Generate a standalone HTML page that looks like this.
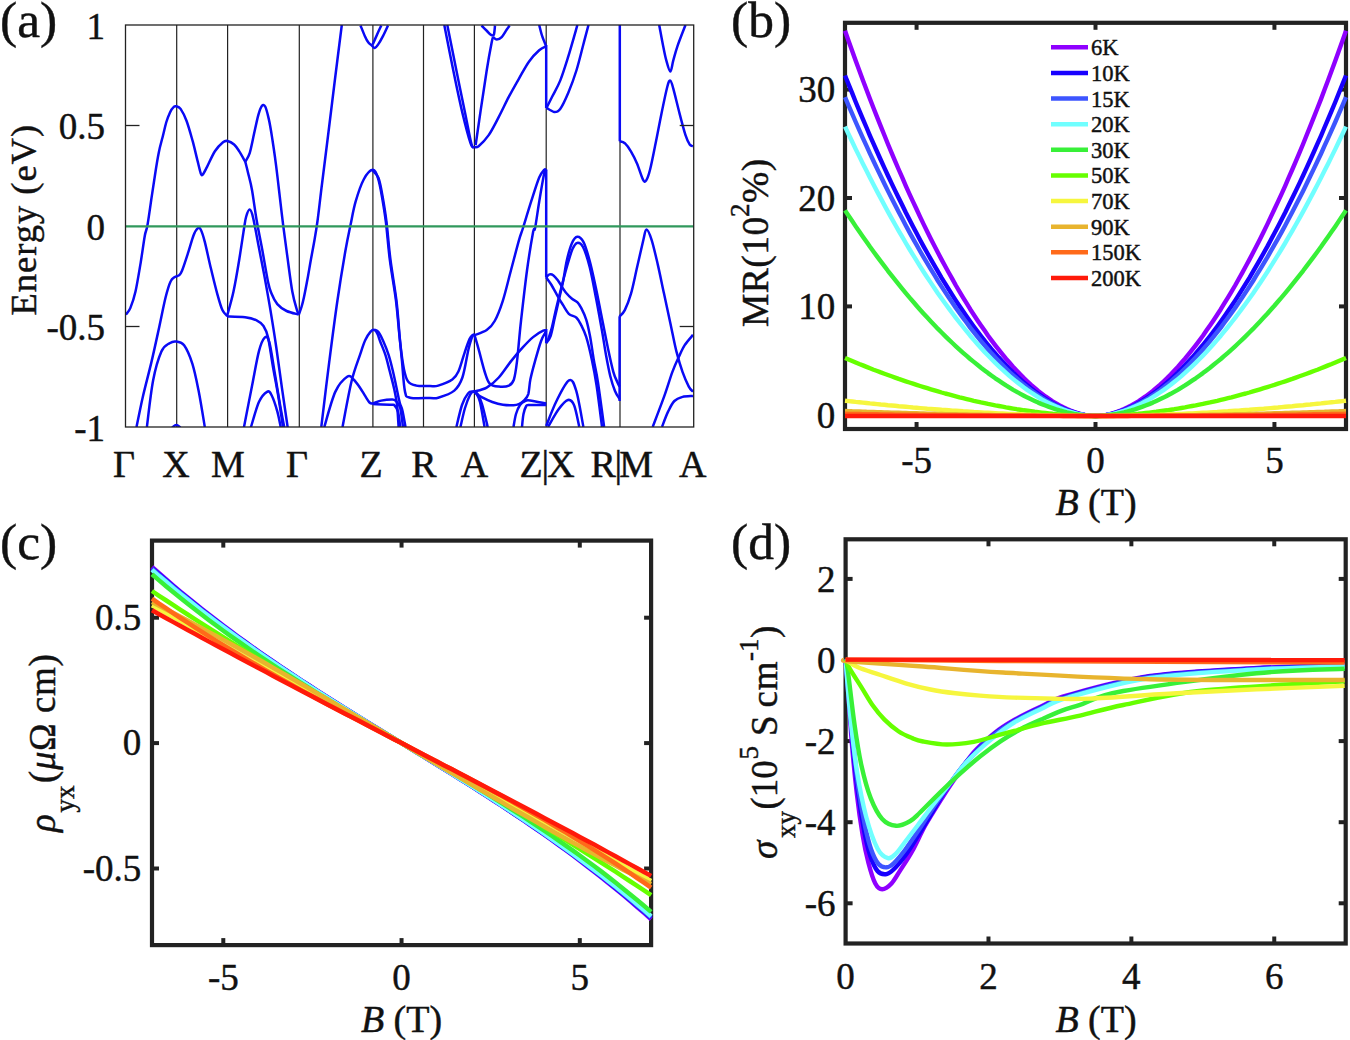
<!DOCTYPE html>
<html><head><meta charset="utf-8"><style>
html,body{margin:0;padding:0;background:#fff;}
body{width:1350px;height:1040px;overflow:hidden;}
svg{display:block;}
text{font-family:'Liberation Serif',serif;fill:#111;stroke:#111;stroke-width:0.45px;}
</style></head><body>
<svg width="1350" height="1040" viewBox="0 0 1350 1040">
<rect width="1350" height="1040" fill="#fff"/>
<g stroke="#222" stroke-width="1.2" fill="none">
<line x1="176.7" y1="25.0" x2="176.7" y2="427.0"/>
<line x1="227.6" y1="25.0" x2="227.6" y2="427.0"/>
<line x1="299.3" y1="25.0" x2="299.3" y2="427.0"/>
<line x1="372.9" y1="25.0" x2="372.9" y2="427.0"/>
<line x1="423.5" y1="25.0" x2="423.5" y2="427.0"/>
<line x1="474.4" y1="25.0" x2="474.4" y2="427.0"/>
<line x1="546.2" y1="25.0" x2="546.2" y2="427.0"/>
<line x1="620.0" y1="25.0" x2="620.0" y2="427.0"/>
</g>
<clipPath id="ca"><rect x="125.5" y="25.0" width="568.2" height="402.0"/></clipPath><g clip-path="url(#ca)" fill="none" stroke="#0a0af5" stroke-width="2.5" stroke-linejoin="round">
<path d="M125.8,314.7 C126.5,313.6 128.7,312.0 130.3,308.1 C131.9,304.2 133.8,299.1 135.5,291.5 C137.2,283.9 139.1,271.9 140.7,262.6 C142.2,253.3 143.7,241.8 144.8,235.7 C145.9,229.6 146.2,231.9 147.3,226.0 C148.4,220.1 150.0,208.5 151.2,200.0 C152.5,191.5 153.8,182.9 155.0,175.0 C156.2,167.1 157.5,158.8 158.8,152.5 C160.0,146.2 161.2,142.5 162.5,137.5 C163.8,132.5 165.0,126.7 166.2,122.5 C167.5,118.3 168.8,115.1 170.0,112.5 C171.2,109.9 172.7,107.9 173.8,106.9 C174.8,105.9 175.4,106.0 176.5,106.3 C177.6,106.6 178.9,106.5 180.6,108.9 C182.3,111.4 184.6,115.6 186.6,121.0 C188.6,126.4 190.8,134.5 192.7,141.2 C194.5,147.9 196.3,156.0 197.7,161.4 C199.0,166.8 200.0,171.3 200.8,173.5 C201.7,175.7 201.8,175.5 202.8,174.5 C203.8,173.5 204.8,171.3 206.8,167.4 C208.8,163.5 212.2,155.5 214.9,151.3 C217.6,147.1 220.9,143.9 223.0,142.2 C225.1,140.5 225.7,140.6 227.5,141.0 C229.3,141.4 232.1,142.8 234.1,144.5 C236.1,146.2 237.4,148.5 239.3,151.4 C241.2,154.3 244.3,160.1 245.3,161.8"/>
<path d="M245.3,161.8 C245.7,163.5 246.8,167.5 247.9,172.2 C249.0,176.9 250.6,182.0 252.0,190.0 C253.4,198.0 254.9,210.0 256.6,220.0 C258.3,230.0 260.4,239.6 262.3,250.0 C264.2,260.4 266.6,274.9 268.1,282.2 C269.7,289.5 270.1,290.1 271.6,293.8 C273.1,297.5 274.8,301.2 277.3,304.1 C279.8,307.0 283.0,309.3 286.6,311.0 C290.2,312.7 296.8,313.9 298.8,314.5"/>
<path d="M245.3,161.8 C246.0,160.4 248.2,157.7 249.7,153.1 C251.1,148.5 252.6,140.4 254.0,134.1 C255.4,127.8 257.0,119.8 258.3,115.1 C259.6,110.4 260.7,107.3 261.8,105.9 C262.9,104.5 264.1,104.4 265.2,106.5 C266.3,108.6 267.5,113.4 268.7,118.6 C269.9,123.8 271.0,130.4 272.1,137.6 C273.2,144.8 274.5,153.1 275.6,161.8 C276.8,170.5 277.8,179.5 279.0,190.0 C280.2,200.5 281.7,213.1 283.1,224.6 C284.6,236.1 286.2,248.0 287.7,259.2 C289.2,270.3 290.8,283.1 292.3,291.5 C293.8,299.9 295.8,306.1 296.9,309.9 C298.0,313.7 298.5,313.7 298.8,314.5"/>
<path d="M136.5,427.0 C137.6,422.0 140.4,407.5 142.8,397.0 C145.2,386.5 148.2,375.6 151.0,363.9 C153.8,352.2 156.9,337.7 159.3,326.7 C161.7,315.7 163.6,305.3 165.5,297.7 C167.4,290.1 169.1,284.6 170.7,281.2 C172.2,277.8 173.4,278.0 174.8,277.0 C176.2,276.0 177.7,276.4 178.9,275.4 C180.1,274.4 180.4,274.7 182.0,270.8 C183.6,266.9 186.4,258.1 188.3,252.2 C190.2,246.3 191.9,239.7 193.4,235.7 C194.9,231.7 196.4,229.4 197.6,228.4 C198.8,227.4 199.5,227.2 200.7,229.5 C201.9,231.8 203.1,235.3 204.8,241.9 C206.5,248.5 208.9,260.2 211.0,268.8 C213.1,277.4 215.3,286.7 217.2,293.6 C219.1,300.5 220.7,306.3 222.4,310.1 C224.1,313.9 226.7,315.3 227.5,316.3"/>
<path d="M146.9,427.0 C147.9,419.2 150.7,393.1 153.1,380.5 C155.5,367.9 158.7,357.7 161.4,351.5 C164.2,345.3 167.1,344.8 169.6,343.2 C172.1,341.6 173.9,341.2 176.3,341.6 C178.7,342.0 181.4,341.6 184.1,345.3 C186.8,349.0 190.0,356.3 192.4,363.9 C194.8,371.5 196.5,380.3 198.6,390.8 C200.7,401.3 203.8,421.0 204.8,427.0"/>
<path d="M172.0,427.5 C172.7,427.1 174.9,425.0 176.3,425.0 C177.7,425.0 179.9,427.1 180.6,427.5"/>
<path d="M227.1,315.7 C228.2,311.7 231.5,300.9 233.5,291.5 C235.5,282.1 237.6,269.6 239.3,259.2 C241.0,248.8 242.8,236.3 243.9,229.2 C245.1,222.1 245.2,219.8 246.2,216.5 C247.2,213.2 248.5,209.4 249.7,209.6 C250.8,209.8 251.6,211.4 253.1,217.7 C254.6,224.0 257.0,237.6 258.9,247.6 C260.8,257.6 262.8,267.2 264.7,277.6 C266.6,288.0 268.5,298.4 270.4,309.9 C272.3,321.4 274.3,333.7 276.2,346.8 C278.1,359.9 280.1,374.9 282.0,388.3 C283.9,401.8 286.8,421.0 287.7,427.5"/>
<path d="M227.1,316.4 C230.1,316.5 240.2,316.6 245.1,317.3 C250.0,318.0 253.5,318.9 256.6,320.3 C259.7,321.8 261.6,323.1 263.5,326.0 C265.4,328.9 266.6,331.1 268.1,337.6 C269.6,344.1 271.0,355.2 272.7,365.2 C274.4,375.2 276.8,387.1 278.5,397.5 C280.2,407.9 282.3,422.5 283.1,427.5"/>
<path d="M243.9,427.5 C245.2,420.6 249.5,398.7 252.0,386.0 C254.5,373.3 256.8,359.5 258.9,351.4 C261.0,343.3 263.0,339.1 264.7,337.6 C266.4,336.1 267.6,336.1 269.3,342.2 C271.0,348.3 273.1,363.4 275.0,374.5 C276.9,385.6 279.2,400.2 280.8,409.0 C282.4,417.8 283.7,424.4 284.3,427.5"/>
<path d="M250.8,427.5 C252.2,423.3 256.2,408.1 258.9,402.1 C261.6,396.2 264.9,393.0 267.0,391.8 C269.1,390.6 269.9,391.9 271.6,395.2 C273.3,398.5 275.8,406.0 277.3,411.4 C278.8,416.8 280.2,424.8 280.8,427.5"/>
<path d="M298.9,314.3 C299.3,313.1 300.6,309.9 301.5,307.0 C302.4,304.1 303.0,301.7 304.0,297.0 C305.0,292.3 306.3,285.3 307.5,279.0 C308.7,272.7 309.8,265.5 311.0,259.0 C312.2,252.5 313.4,246.3 314.5,240.0 C315.6,233.7 316.2,230.3 317.5,221.0 C318.8,211.7 320.2,198.2 322.0,184.0 C323.8,169.8 325.8,153.5 328.0,136.0 C330.2,118.5 332.7,97.5 335.0,79.0 C337.3,60.5 340.7,34.0 341.8,25.0"/>
<path d="M321.3,427.0 C322.6,416.1 326.6,382.4 329.3,361.4 C332.0,340.4 334.7,319.3 337.4,300.8 C340.1,282.3 343.3,262.9 345.5,250.3 C347.7,237.7 348.8,233.1 350.5,225.0 C352.2,216.9 353.4,209.3 355.6,201.7 C357.8,194.1 360.9,184.8 363.7,179.5 C366.5,174.2 370.3,170.1 372.7,169.8 C375.1,169.5 376.3,173.2 377.8,177.5 C379.3,181.8 380.5,188.3 381.8,195.7 C383.1,203.1 384.5,211.2 385.9,222.0 C387.2,232.8 388.2,247.3 389.9,260.4 C391.6,273.5 394.3,287.3 396.0,300.8 C397.7,314.3 398.7,329.8 400.0,341.2 C401.3,352.6 402.6,362.7 404.0,369.4 C405.4,376.1 406.1,378.8 408.1,381.5 C410.1,384.2 412.6,384.9 416.2,385.6 C419.8,386.4 426.3,386.0 430.0,386.0 C433.7,386.0 434.5,386.7 438.2,385.6 C441.9,384.5 448.9,381.9 452.3,379.5 C455.7,377.1 456.4,375.9 458.4,371.5 C460.4,367.1 462.5,358.7 464.4,353.3 C466.2,347.9 468.1,342.1 469.5,339.1 C470.9,336.1 471.7,335.8 472.5,335.1 C473.3,334.4 474.2,335.1 474.5,335.1"/>
<path d="M372.7,170.5 C373.7,171.8 376.9,173.8 378.5,178.0 C380.1,182.2 381.2,188.7 382.5,196.0 C383.8,203.3 385.2,211.3 386.5,222.0 C387.8,232.7 388.8,246.8 390.5,260.0 C392.2,273.2 395.0,288.5 396.5,301.0 C398.0,313.5 398.6,324.9 399.5,335.0 C400.4,345.1 401.1,352.0 402.0,361.4 C402.9,370.8 403.6,385.6 405.0,391.6 C406.4,397.7 405.9,396.6 410.1,397.7 C414.3,398.8 425.3,398.0 430.0,398.0 C434.7,398.0 434.1,398.9 438.2,397.7 C442.2,396.5 450.3,394.0 454.3,390.6 C458.3,387.2 460.0,384.4 462.4,377.5 C464.8,370.6 466.8,356.1 468.5,349.2 C470.2,342.3 471.5,338.5 472.5,336.1 C473.5,333.8 474.2,335.3 474.5,335.1"/>
<path d="M342.5,427.0 C344.0,419.4 348.6,393.5 351.5,381.5 C354.4,369.5 357.7,361.8 360.0,354.9 C362.3,348.0 363.5,344.0 365.3,340.1 C367.1,336.2 369.1,333.3 370.6,331.6 C372.1,329.9 373.4,329.4 374.5,329.8 C375.6,330.2 376.6,332.1 377.5,334.0 C378.4,335.9 378.8,337.7 380.1,341.2 C381.4,344.7 383.8,350.0 385.4,354.9 C387.0,359.8 388.2,365.3 389.6,370.8 C391.0,376.3 392.7,382.1 393.9,387.7 C395.1,393.3 396.2,398.1 397.0,404.7 C397.8,411.2 398.3,423.3 398.6,427.0"/>
<path d="M374.5,329.8 C375.2,330.2 377.0,330.1 378.5,332.0 C380.0,333.9 381.6,337.4 383.3,341.2 C385.0,345.0 387.0,350.0 388.6,354.9 C390.2,359.8 391.5,365.3 392.8,370.8 C394.1,376.3 395.4,382.4 396.5,387.7 C397.6,393.0 398.7,398.8 399.7,402.5 C400.7,406.2 401.3,405.9 402.3,410.0 C403.3,414.1 405.0,424.2 405.5,427.0"/>
<path d="M324.3,427.0 C326.1,421.1 331.5,400.0 335.4,391.6 C339.3,383.2 344.5,378.5 347.5,376.5 C350.5,374.5 351.5,377.6 353.6,379.5 C355.7,381.4 358.1,384.9 360.0,387.7 C361.9,390.5 363.7,393.7 365.3,396.2 C366.9,398.7 368.3,401.3 369.5,402.5 C370.7,403.7 370.8,403.7 372.7,403.4 C374.6,403.1 378.0,401.3 381.2,400.6 C384.4,399.9 389.3,399.4 391.7,399.4 C394.1,399.4 394.1,399.2 395.5,400.6 C396.9,402.0 398.9,403.4 400.2,407.8 C401.4,412.2 402.5,423.8 403.0,427.0"/>
<path d="M372.7,404.1 C375.9,404.2 388.0,404.4 391.7,404.7 C395.4,405.0 393.8,404.7 394.9,405.9 C396.0,407.1 397.2,408.5 398.1,412.0 C399.0,415.5 399.9,424.5 400.2,427.0"/>
<path d="M360.5,25.5 C361.2,27.2 363.5,33.0 364.8,35.9 C366.1,38.8 367.2,41.0 368.4,42.6 C369.6,44.2 371.1,44.8 372.1,45.7 C373.1,46.6 373.6,48.3 374.6,48.1 C375.6,47.9 376.8,46.4 378.2,44.4 C379.6,42.4 381.5,39.0 383.1,35.9 C384.7,32.8 387.2,27.2 388.0,25.5"/>
<path d="M372.7,44.4 C373.4,42.8 375.6,37.9 377.0,34.7 C378.4,31.6 380.6,27.0 381.3,25.5"/>
<path d="M444.3,25.0 C445.8,32.6 450.3,55.9 453.3,70.5 C456.3,85.2 459.5,100.8 462.4,112.9 C465.3,125.0 468.6,137.4 470.5,143.2 C472.4,149.0 473.4,146.8 474.0,147.5"/>
<path d="M447.3,25.0 C448.8,32.6 453.4,55.5 456.4,70.5 C459.4,85.5 463.0,102.6 465.5,114.9 C468.0,127.2 470.0,138.8 471.5,144.2 C473.0,149.6 474.0,146.7 474.5,147.2"/>
<path d="M474.5,147.2 C475.2,147.0 476.2,148.2 478.6,146.2 C481.0,144.2 485.3,140.0 488.7,135.1 C492.1,130.2 495.4,123.3 498.8,116.9 C502.2,110.5 505.5,103.1 508.9,96.7 C512.3,90.3 515.6,84.5 519.0,78.6 C522.4,72.7 525.7,66.1 529.1,61.4 C532.5,56.7 536.4,52.8 539.2,50.3 C542.1,47.8 545.0,47.0 546.2,46.3"/>
<path d="M475.6,145.2 C476.4,139.5 478.8,123.4 480.6,110.9 C482.5,98.5 484.9,82.0 486.7,70.5 C488.5,59.0 490.6,47.8 491.7,42.2 C492.8,36.6 492.9,38.0 493.1,37.1"/>
<path d="M481.5,25.5 C482.4,26.4 485.5,29.5 487.0,31.0 C488.5,32.5 489.6,34.1 490.7,34.7 C491.8,35.3 493.1,36.2 493.8,34.7 C494.5,33.2 494.8,27.0 495.0,25.5"/>
<path d="M493.1,37.1 C493.7,37.5 495.4,39.6 496.8,39.6 C498.2,39.6 500.1,38.7 501.7,37.1 C503.3,35.5 505.3,31.7 506.6,29.8 C507.9,27.9 509.1,26.2 509.6,25.5"/>
<path d="M539.2,25.0 C539.7,26.9 541.0,32.7 542.2,36.2 C543.4,39.8 545.5,44.6 546.2,46.3"/>
<path d="M474.5,335.1 C476.5,334.3 483.3,332.5 486.7,330.1 C490.1,327.8 492.0,325.9 494.7,321.0 C497.4,316.1 500.1,309.2 502.8,300.8 C505.5,292.4 508.2,280.6 510.9,270.5 C513.6,260.4 517.0,247.3 519.0,240.2 C521.0,233.1 521.0,234.4 523.0,228.0 C525.0,221.6 528.4,210.1 531.1,201.7 C533.8,193.3 537.0,182.8 539.2,177.5 C541.4,172.2 543.0,171.2 544.2,169.8 C545.4,168.5 545.9,169.5 546.2,169.4"/>
<path d="M474.5,335.1 C475.2,337.5 476.9,343.1 478.6,349.2 C480.3,355.3 482.8,365.8 484.6,371.5 C486.5,377.2 487.3,381.1 489.7,383.6 C492.1,386.1 495.6,386.3 498.8,386.6 C502.0,386.9 506.4,386.8 508.9,385.6 C511.4,384.4 512.5,383.5 513.9,379.5 C515.2,375.5 515.8,371.1 517.0,361.4 C518.2,351.6 519.3,336.1 521.0,321.0 C522.7,305.9 525.0,285.3 527.0,270.5 C529.0,255.7 531.8,239.2 533.1,232.1 C534.5,225.0 534.1,233.1 535.1,228.0 C536.1,222.9 537.7,210.8 539.2,201.7 C540.7,192.6 543.0,178.9 544.2,173.5 C545.4,168.1 545.9,170.1 546.2,169.4"/>
<path d="M473.5,391.6 C475.7,390.9 482.5,390.0 486.7,387.6 C490.9,385.2 494.8,381.9 498.8,377.5 C502.8,373.1 506.9,366.4 510.9,361.4 C514.9,356.3 519.3,351.2 523.0,347.2 C526.7,343.1 529.7,339.9 533.1,337.1 C536.5,334.4 541.0,331.7 543.2,330.7 C545.4,329.7 545.7,331.0 546.2,331.1"/>
<path d="M456.4,427.0 C457.3,423.3 460.1,410.6 462.0,405.0 C463.9,399.4 466.2,395.7 468.0,393.5 C469.8,391.3 471.2,391.7 472.5,391.6 C473.8,391.5 474.8,391.3 476.0,393.0 C477.2,394.7 478.6,396.3 480.0,402.0 C481.4,407.7 483.8,422.8 484.6,427.0"/>
<path d="M460.4,427.0 C461.2,423.8 463.4,413.3 465.0,408.0 C466.6,402.7 468.6,397.7 470.0,395.0 C471.4,392.3 472.2,391.8 473.5,391.6 C474.8,391.4 476.1,391.9 477.5,394.0 C478.9,396.1 480.3,398.5 482.0,404.0 C483.7,409.5 486.8,423.2 487.7,427.0"/>
<path d="M474.5,392.5 C475.7,393.3 478.7,395.6 481.7,397.2 C484.7,398.8 488.8,400.8 492.3,402.0 C495.8,403.2 499.4,404.2 502.9,404.7 C506.4,405.2 510.9,405.3 513.5,405.2 C516.1,405.1 517.0,404.9 518.8,404.1 C520.6,403.3 522.5,402.1 524.1,400.4 C525.7,398.7 527.2,397.6 528.3,394.1 C529.3,390.6 529.3,384.6 530.4,379.3 C531.5,374.0 532.9,368.7 534.7,362.3 C536.5,355.9 539.1,346.4 541.0,341.2 C542.9,336.0 545.3,332.8 546.2,331.1"/>
<path d="M513.5,427.0 C513.9,424.8 514.9,417.7 516.0,414.0 C517.1,410.3 518.5,407.2 520.0,405.0 C521.5,402.8 523.3,401.8 525.0,401.0 C526.7,400.2 526.5,400.1 530.0,400.5 C533.5,400.9 543.6,403.1 546.3,403.6"/>
<path d="M522.0,427.0 C522.2,424.8 522.8,417.4 523.5,414.0 C524.2,410.6 525.1,408.0 526.0,406.5 C526.9,405.0 525.6,405.2 529.0,405.0 C532.4,404.8 543.4,405.0 546.3,405.0"/>
<path d="M546.5,107.9 C547.4,106.1 549.8,101.3 552.1,96.8 C554.4,92.2 557.5,87.3 560.2,80.6 C562.9,73.9 565.4,65.7 568.3,56.4 C571.2,47.1 575.9,30.2 577.4,25.0"/>
<path d="M546.5,107.9 C547.8,108.6 551.8,111.7 554.1,111.9 C556.4,112.1 557.8,112.1 560.2,108.9 C562.6,105.7 565.6,99.1 568.3,92.7 C571.0,86.3 573.9,78.6 576.4,70.5 C578.9,62.4 581.4,51.8 583.4,44.2 C585.4,36.6 587.6,28.2 588.5,25.0"/>
<path d="M546.2,343.2 C546.9,342.0 549.2,339.9 550.6,336.0 C552.0,332.1 553.0,325.9 554.4,319.6 C555.8,313.4 557.8,304.9 559.2,298.5 C560.7,292.1 561.8,287.6 563.1,281.2 C564.4,274.8 565.4,266.4 566.9,260.0 C568.4,253.6 570.3,246.9 572.0,243.0 C573.7,239.1 575.3,236.9 577.2,236.7 C579.1,236.5 581.3,237.9 583.4,241.9 C585.5,245.9 587.5,252.9 589.6,260.5 C591.7,268.1 593.7,277.8 595.8,287.4 C597.9,297.0 599.9,308.1 602.0,318.4 C604.1,328.7 606.3,340.4 608.2,349.4 C610.1,358.3 611.9,366.6 613.4,372.1 C614.9,377.6 616.5,380.0 617.5,382.4 C618.5,384.8 619.2,385.9 619.6,386.6"/>
<path d="M548.0,340.0 C548.7,337.8 550.6,332.5 552.0,327.0 C553.4,321.5 554.8,314.0 556.5,307.0 C558.2,300.0 560.1,292.3 562.0,285.0 C563.9,277.7 566.2,269.0 568.0,263.0 C569.8,257.0 571.0,252.3 572.5,249.0 C574.0,245.7 575.5,243.2 577.2,242.9 C579.0,242.6 580.9,243.0 583.0,247.0 C585.1,251.0 587.4,258.2 589.6,266.7 C591.8,275.2 593.9,287.3 596.0,298.0 C598.1,308.7 600.3,321.3 602.0,330.8 C603.7,340.3 604.6,347.4 606.0,355.0 C607.4,362.6 608.8,370.2 610.3,376.2 C611.8,382.2 613.5,387.2 615.0,391.0 C616.5,394.8 618.8,397.7 619.6,399.0"/>
<path d="M546.3,277.3 C546.8,276.8 548.4,274.7 549.6,274.4 C550.8,274.1 552.1,274.4 553.5,275.4 C554.9,276.4 556.4,278.3 557.8,280.2 C559.2,282.1 560.6,284.9 562.0,287.0 C563.4,289.1 564.4,290.8 566.0,292.7 C567.6,294.6 569.8,296.9 571.7,298.5 C573.6,300.1 575.9,300.7 577.5,302.3 C579.1,303.9 579.8,305.2 581.3,308.1 C582.8,311.0 584.8,315.0 586.2,319.6 C587.7,324.2 588.7,329.3 590.0,336.0 C591.3,342.7 592.5,352.3 593.8,360.0 C595.1,367.7 596.2,370.9 597.9,382.0 C599.6,393.1 603.1,419.4 604.1,426.9"/>
<path d="M546.3,277.5 C547.2,278.8 549.6,281.8 551.5,285.0 C553.4,288.2 555.9,293.1 557.8,296.5 C559.7,299.9 561.3,302.3 563.1,305.2 C564.9,308.1 566.6,311.7 568.8,313.8 C571.0,315.9 574.4,315.8 576.5,317.7 C578.6,319.6 579.7,322.2 581.3,325.4 C582.9,328.6 584.4,331.1 586.2,336.9 C588.0,342.7 590.2,352.0 591.9,360.0 C593.6,368.0 594.8,373.9 596.5,385.0 C598.2,396.1 601.1,419.9 602.0,426.9"/>
<path d="M546.2,425.9 C547.9,421.8 552.7,408.6 556.5,401.0 C560.3,393.4 565.7,382.1 569.0,380.4 C572.3,378.7 573.8,382.9 576.2,390.7 C578.6,398.4 582.2,420.9 583.4,426.9"/>
<path d="M548.0,426.9 C549.8,424.0 555.3,413.8 558.6,409.3 C561.9,404.8 565.3,400.7 567.9,400.0 C570.5,399.3 572.2,400.7 574.1,405.2 C576.0,409.7 578.4,423.3 579.3,426.9"/>
<path d="M619.8,141.2 C620.6,141.5 622.9,141.5 624.8,143.2 C626.6,144.9 628.9,147.9 630.9,151.3 C632.9,154.7 635.0,158.7 637.0,163.4 C639.0,168.1 641.5,176.7 643.0,179.6 C644.5,182.5 644.9,182.3 646.1,180.6 C647.3,178.9 648.6,175.4 650.1,169.5 C651.6,163.6 653.4,154.4 655.2,145.3 C657.1,136.2 659.2,124.7 661.2,114.9 C663.2,105.1 665.8,92.4 667.3,86.7 C668.8,81.0 669.3,80.3 670.3,80.6 C671.3,80.9 671.8,83.3 673.3,88.7 C674.8,94.1 677.4,105.2 679.4,112.9 C681.4,120.7 683.8,130.0 685.5,135.2 C687.2,140.4 688.3,142.3 689.5,144.2 C690.7,146.0 692.3,146.0 692.9,146.3"/>
<path d="M659.2,25.0 C659.9,28.6 662.0,40.4 663.2,46.3 C664.4,52.2 665.1,56.2 666.3,60.4 C667.5,64.6 669.1,71.5 670.3,71.5 C671.5,71.5 672.1,64.6 673.3,60.4 C674.5,56.2 675.4,52.2 677.4,46.3 C679.4,40.4 684.1,28.6 685.5,25.0"/>
<path d="M619.6,316.3 C620.5,315.3 622.9,313.9 624.8,310.1 C626.7,306.3 628.9,300.8 631.0,293.6 C633.1,286.4 635.1,275.7 637.2,266.7 C639.3,257.7 641.9,246.0 643.4,239.8 C644.9,233.6 645.1,229.5 646.5,229.5 C647.9,229.5 649.7,234.0 651.6,239.8 C653.5,245.7 655.7,255.6 657.8,264.6 C659.9,273.6 661.9,284.0 664.0,293.6 C666.1,303.2 668.1,312.9 670.2,322.5 C672.3,332.1 674.3,343.1 676.4,351.4 C678.5,359.7 680.5,366.2 682.6,372.1 C684.7,378.0 687.1,383.3 688.8,386.6 C690.5,389.9 692.3,390.9 693.0,391.7"/>
<path d="M652.7,426.9 C654.6,421.9 660.7,406.0 664.0,396.9 C667.3,387.8 669.9,378.7 672.3,372.1 C674.7,365.6 676.4,362.1 678.5,357.6 C680.6,353.1 682.3,349.0 684.7,345.2 C687.1,341.4 691.6,336.6 693.0,334.9"/>
<path d="M662.0,426.9 C663.0,424.3 666.1,415.7 668.2,411.4 C670.3,407.1 672.0,403.4 674.4,401.0 C676.8,398.6 679.5,397.8 682.6,396.9 C685.7,396.0 691.3,396.1 693.0,395.9"/>
<line x1="546.2" y1="45.3" x2="546.2" y2="107.9"/>
<line x1="546.2" y1="169.5" x2="546.2" y2="277.5"/>
<line x1="546.2" y1="329" x2="546.2" y2="343.2"/>
<line x1="619.8" y1="25" x2="619.8" y2="141.2"/>
<line x1="619.6" y1="316.3" x2="619.6" y2="401"/>
</g>
<line x1="125.5" y1="226.3" x2="693.7" y2="226.3" stroke="#30985c" stroke-width="2.2"/>
<rect x="125.5" y="25.0" width="568.2" height="402.0" fill="none" stroke="#222" stroke-width="1.3"/>
<g stroke="#222" stroke-width="1.3">
<line x1="125.5" y1="125.5" x2="139.5" y2="125.5"/>
<line x1="693.7" y1="125.5" x2="679.7" y2="125.5"/>
<line x1="125.5" y1="326.5" x2="139.5" y2="326.5"/>
<line x1="693.7" y1="326.5" x2="679.7" y2="326.5"/>
</g>
<text x="105" y="38.5" font-size="37" text-anchor="end" >1</text>
<text x="105" y="139.0" font-size="37" text-anchor="end" >0.5</text>
<text x="105" y="239.5" font-size="37" text-anchor="end" >0</text>
<text x="105" y="340.0" font-size="37" text-anchor="end" >-0.5</text>
<text x="105" y="440.5" font-size="37" text-anchor="end" >-1</text>
<text x="0" y="37" font-size="51.5" text-anchor="start" >(a)</text>
<text transform="translate(35.8,315.6) rotate(-90)" font-size="36.5" letter-spacing="1.0">Energy (eV)</text>
<text x="124" y="477" font-size="38" text-anchor="middle" >Γ</text>
<text x="176" y="477" font-size="38" text-anchor="middle" >X</text>
<text x="228" y="477" font-size="38" text-anchor="middle" >M</text>
<text x="297" y="477" font-size="38" text-anchor="middle" >Γ</text>
<text x="371" y="477" font-size="38" text-anchor="middle" >Z</text>
<text x="424" y="477" font-size="38" text-anchor="middle" >R</text>
<text x="474.5" y="477" font-size="38" text-anchor="middle" >A</text>
<text x="531" y="477" font-size="38" text-anchor="middle" >Z</text>
<text x="545.3" y="477" font-size="38" text-anchor="middle" >|</text>
<text x="561" y="477" font-size="38" text-anchor="middle" >X</text>
<text x="603.1" y="477" font-size="38" text-anchor="middle" >R</text>
<text x="618.4" y="477" font-size="38" text-anchor="middle" >|</text>
<text x="636.1" y="477" font-size="38" text-anchor="middle" >M</text>
<text x="692.8" y="477" font-size="38" text-anchor="middle" >A</text>
<rect x="845.0" y="22.8" width="501.0" height="406.2" fill="none" stroke="#222" stroke-width="4.2"/>
<g stroke="#222" stroke-width="4">
<line x1="916.5714285714286" y1="22.8" x2="916.5714285714286" y2="29.8"/>
<line x1="916.5714285714286" y1="429.0" x2="916.5714285714286" y2="422.0"/>
<line x1="1095.5" y1="22.8" x2="1095.5" y2="29.8"/>
<line x1="1095.5" y1="429.0" x2="1095.5" y2="422.0"/>
<line x1="1274.4285714285713" y1="22.8" x2="1274.4285714285713" y2="29.8"/>
<line x1="1274.4285714285713" y1="429.0" x2="1274.4285714285713" y2="422.0"/>
<line x1="845.0" y1="414.8" x2="852.0" y2="414.8"/>
<line x1="1346.0" y1="414.8" x2="1339.0" y2="414.8"/>
<line x1="845.0" y1="306.4" x2="852.0" y2="306.4"/>
<line x1="1346.0" y1="306.4" x2="1339.0" y2="306.4"/>
<line x1="845.0" y1="198.0" x2="852.0" y2="198.0"/>
<line x1="1346.0" y1="198.0" x2="1339.0" y2="198.0"/>
<line x1="845.0" y1="89.60000000000002" x2="852.0" y2="89.60000000000002"/>
<line x1="1346.0" y1="89.60000000000002" x2="1339.0" y2="89.60000000000002"/>
</g>
<g>
<path d="M845.0,30.8 L848.6,41.0 L852.2,51.0 L855.7,60.8 L859.3,70.6 L862.9,80.2 L866.5,89.7 L870.0,99.1 L873.6,108.3 L877.2,117.4 L880.8,126.4 L884.4,135.3 L887.9,144.0 L891.5,152.6 L895.1,161.1 L898.7,169.5 L902.3,177.7 L905.8,185.8 L909.4,193.8 L913.0,201.6 L916.6,209.3 L920.1,216.9 L923.7,224.4 L927.3,231.7 L930.9,238.9 L934.5,245.9 L938.0,252.8 L941.6,259.6 L945.2,266.3 L948.8,272.8 L952.4,279.2 L955.9,285.5 L959.5,291.6 L963.1,297.6 L966.7,303.4 L970.2,309.2 L973.8,314.7 L977.4,320.2 L981.0,325.5 L984.6,330.6 L988.1,335.7 L991.7,340.6 L995.3,345.3 L998.9,349.9 L1002.5,354.4 L1006.0,358.7 L1009.6,362.8 L1013.2,366.9 L1016.8,370.7 L1020.4,374.5 L1023.9,378.1 L1027.5,381.5 L1031.1,384.8 L1034.7,387.9 L1038.2,390.9 L1041.8,393.7 L1045.4,396.4 L1049.0,398.9 L1052.6,401.3 L1056.1,403.4 L1059.7,405.5 L1063.3,407.3 L1066.9,409.0 L1070.5,410.6 L1074.0,411.9 L1077.6,413.1 L1081.2,414.1 L1084.8,414.9 L1088.3,415.5 L1091.9,415.9 L1095.5,416.0 L1099.1,415.9 L1102.7,415.5 L1106.2,414.9 L1109.8,414.1 L1113.4,413.1 L1117.0,411.9 L1120.5,410.6 L1124.1,409.0 L1127.7,407.3 L1131.3,405.5 L1134.9,403.4 L1138.4,401.3 L1142.0,398.9 L1145.6,396.4 L1149.2,393.7 L1152.8,390.9 L1156.3,387.9 L1159.9,384.8 L1163.5,381.5 L1167.1,378.1 L1170.7,374.5 L1174.2,370.7 L1177.8,366.9 L1181.4,362.8 L1185.0,358.7 L1188.5,354.4 L1192.1,349.9 L1195.7,345.3 L1199.3,340.6 L1202.9,335.7 L1206.4,330.6 L1210.0,325.5 L1213.6,320.2 L1217.2,314.7 L1220.8,309.2 L1224.3,303.4 L1227.9,297.6 L1231.5,291.6 L1235.1,285.5 L1238.6,279.2 L1242.2,272.8 L1245.8,266.3 L1249.4,259.6 L1253.0,252.8 L1256.5,245.9 L1260.1,238.9 L1263.7,231.7 L1267.3,224.4 L1270.8,216.9 L1274.4,209.3 L1278.0,201.6 L1281.6,193.8 L1285.2,185.8 L1288.7,177.7 L1292.3,169.5 L1295.9,161.1 L1299.5,152.6 L1303.1,144.0 L1306.6,135.3 L1310.2,126.4 L1313.8,117.4 L1317.4,108.3 L1321.0,99.1 L1324.5,89.7 L1328.1,80.2 L1331.7,70.6 L1335.3,60.8 L1338.8,51.0 L1342.4,41.0 L1346.0,30.8" fill="none" stroke="#8f00ff" stroke-width="4.4" stroke-linejoin="round" stroke-linecap="butt"/>
<path d="M845.0,75.5 L848.6,84.4 L852.2,93.2 L855.7,102.0 L859.3,110.6 L862.9,119.1 L866.5,127.5 L870.0,135.8 L873.6,143.9 L877.2,152.0 L880.8,160.0 L884.4,167.8 L887.9,175.5 L891.5,183.1 L895.1,190.6 L898.7,198.0 L902.3,205.3 L905.8,212.5 L909.4,219.5 L913.0,226.4 L916.6,233.3 L920.1,240.0 L923.7,246.6 L927.3,253.0 L930.9,259.4 L934.5,265.6 L938.0,271.7 L941.6,277.8 L945.2,283.6 L948.8,289.4 L952.4,295.1 L955.9,300.6 L959.5,306.0 L963.1,311.3 L966.7,316.5 L970.2,321.5 L973.8,326.5 L977.4,331.3 L981.0,336.0 L984.6,340.5 L988.1,345.0 L991.7,349.3 L995.3,353.5 L998.9,357.6 L1002.5,361.5 L1006.0,365.3 L1009.6,369.0 L1013.2,372.6 L1016.8,376.0 L1020.4,379.3 L1023.9,382.5 L1027.5,385.5 L1031.1,388.4 L1034.7,391.2 L1038.2,393.8 L1041.8,396.3 L1045.4,398.7 L1049.0,400.9 L1052.6,403.0 L1056.1,404.9 L1059.7,406.7 L1063.3,408.3 L1066.9,409.8 L1070.5,411.2 L1074.0,412.4 L1077.6,413.4 L1081.2,414.3 L1084.8,415.0 L1088.3,415.5 L1091.9,415.9 L1095.5,416.0 L1099.1,415.9 L1102.7,415.5 L1106.2,415.0 L1109.8,414.3 L1113.4,413.4 L1117.0,412.4 L1120.5,411.2 L1124.1,409.8 L1127.7,408.3 L1131.3,406.7 L1134.9,404.9 L1138.4,403.0 L1142.0,400.9 L1145.6,398.7 L1149.2,396.3 L1152.8,393.8 L1156.3,391.2 L1159.9,388.4 L1163.5,385.5 L1167.1,382.5 L1170.7,379.3 L1174.2,376.0 L1177.8,372.6 L1181.4,369.0 L1185.0,365.3 L1188.5,361.5 L1192.1,357.6 L1195.7,353.5 L1199.3,349.3 L1202.9,345.0 L1206.4,340.5 L1210.0,336.0 L1213.6,331.3 L1217.2,326.5 L1220.8,321.5 L1224.3,316.5 L1227.9,311.3 L1231.5,306.0 L1235.1,300.6 L1238.6,295.1 L1242.2,289.4 L1245.8,283.6 L1249.4,277.8 L1253.0,271.7 L1256.5,265.6 L1260.1,259.4 L1263.7,253.0 L1267.3,246.6 L1270.8,240.0 L1274.4,233.3 L1278.0,226.4 L1281.6,219.5 L1285.2,212.5 L1288.7,205.3 L1292.3,198.0 L1295.9,190.6 L1299.5,183.1 L1303.1,175.5 L1306.6,167.8 L1310.2,160.0 L1313.8,152.0 L1317.4,143.9 L1321.0,135.8 L1324.5,127.5 L1328.1,119.1 L1331.7,110.6 L1335.3,102.0 L1338.8,93.2 L1342.4,84.4 L1346.0,75.5" fill="none" stroke="#1800ff" stroke-width="4.4" stroke-linejoin="round" stroke-linecap="butt"/>
<path d="M845.0,97.2 L848.6,105.6 L852.2,113.9 L855.7,122.0 L859.3,130.1 L862.9,138.1 L866.5,145.9 L870.0,153.7 L873.6,161.3 L877.2,168.9 L880.8,176.3 L884.4,183.7 L887.9,190.9 L891.5,198.0 L895.1,205.0 L898.7,212.0 L902.3,218.8 L905.8,225.5 L909.4,232.1 L913.0,238.6 L916.6,244.9 L920.1,251.2 L923.7,257.4 L927.3,263.4 L930.9,269.4 L934.5,275.2 L938.0,281.0 L941.6,286.6 L945.2,292.1 L948.8,297.5 L952.4,302.8 L955.9,308.0 L959.5,313.0 L963.1,318.0 L966.7,322.8 L970.2,327.6 L973.8,332.2 L977.4,336.7 L981.0,341.1 L984.6,345.4 L988.1,349.5 L991.7,353.6 L995.3,357.5 L998.9,361.3 L1002.5,365.0 L1006.0,368.5 L1009.6,372.0 L1013.2,375.3 L1016.8,378.5 L1020.4,381.6 L1023.9,384.6 L1027.5,387.4 L1031.1,390.2 L1034.7,392.8 L1038.2,395.2 L1041.8,397.6 L1045.4,399.8 L1049.0,401.8 L1052.6,403.8 L1056.1,405.6 L1059.7,407.3 L1063.3,408.8 L1066.9,410.2 L1070.5,411.5 L1074.0,412.6 L1077.6,413.6 L1081.2,414.4 L1084.8,415.1 L1088.3,415.6 L1091.9,415.9 L1095.5,416.0 L1099.1,415.9 L1102.7,415.6 L1106.2,415.1 L1109.8,414.4 L1113.4,413.6 L1117.0,412.6 L1120.5,411.5 L1124.1,410.2 L1127.7,408.8 L1131.3,407.3 L1134.9,405.6 L1138.4,403.8 L1142.0,401.8 L1145.6,399.8 L1149.2,397.6 L1152.8,395.2 L1156.3,392.8 L1159.9,390.2 L1163.5,387.4 L1167.1,384.6 L1170.7,381.6 L1174.2,378.5 L1177.8,375.3 L1181.4,372.0 L1185.0,368.5 L1188.5,365.0 L1192.1,361.3 L1195.7,357.5 L1199.3,353.6 L1202.9,349.5 L1206.4,345.4 L1210.0,341.1 L1213.6,336.7 L1217.2,332.2 L1220.8,327.6 L1224.3,322.8 L1227.9,318.0 L1231.5,313.0 L1235.1,308.0 L1238.6,302.8 L1242.2,297.5 L1245.8,292.1 L1249.4,286.6 L1253.0,281.0 L1256.5,275.2 L1260.1,269.4 L1263.7,263.4 L1267.3,257.4 L1270.8,251.2 L1274.4,244.9 L1278.0,238.6 L1281.6,232.1 L1285.2,225.5 L1288.7,218.8 L1292.3,212.0 L1295.9,205.0 L1299.5,198.0 L1303.1,190.9 L1306.6,183.7 L1310.2,176.3 L1313.8,168.9 L1317.4,161.3 L1321.0,153.7 L1324.5,145.9 L1328.1,138.1 L1331.7,130.1 L1335.3,122.0 L1338.8,113.9 L1342.4,105.6 L1346.0,97.2" fill="none" stroke="#3d55ff" stroke-width="4.4" stroke-linejoin="round" stroke-linecap="butt"/>
<path d="M845.0,126.6 L848.6,134.2 L852.2,141.7 L855.7,149.1 L859.3,156.4 L862.9,163.7 L866.5,170.8 L870.0,177.8 L873.6,184.8 L877.2,191.6 L880.8,198.4 L884.4,205.1 L887.9,211.6 L891.5,218.1 L895.1,224.5 L898.7,230.8 L902.3,236.9 L905.8,243.0 L909.4,249.0 L913.0,254.9 L916.6,260.7 L920.1,266.4 L923.7,272.0 L927.3,277.5 L930.9,282.9 L934.5,288.2 L938.0,293.4 L941.6,298.5 L945.2,303.5 L948.8,308.4 L952.4,313.2 L955.9,317.9 L959.5,322.5 L963.1,327.0 L966.7,331.4 L970.2,335.7 L973.8,339.9 L977.4,344.0 L981.0,348.0 L984.6,351.9 L988.1,355.6 L991.7,359.3 L995.3,362.9 L998.9,366.3 L1002.5,369.7 L1006.0,372.9 L1009.6,376.1 L1013.2,379.1 L1016.8,382.0 L1020.4,384.8 L1023.9,387.5 L1027.5,390.1 L1031.1,392.5 L1034.7,394.9 L1038.2,397.1 L1041.8,399.3 L1045.4,401.3 L1049.0,403.2 L1052.6,404.9 L1056.1,406.6 L1059.7,408.1 L1063.3,409.5 L1066.9,410.8 L1070.5,411.9 L1074.0,412.9 L1077.6,413.8 L1081.2,414.5 L1084.8,415.1 L1088.3,415.6 L1091.9,415.9 L1095.5,416.0 L1099.1,415.9 L1102.7,415.6 L1106.2,415.1 L1109.8,414.5 L1113.4,413.8 L1117.0,412.9 L1120.5,411.9 L1124.1,410.8 L1127.7,409.5 L1131.3,408.1 L1134.9,406.6 L1138.4,404.9 L1142.0,403.2 L1145.6,401.3 L1149.2,399.3 L1152.8,397.1 L1156.3,394.9 L1159.9,392.5 L1163.5,390.1 L1167.1,387.5 L1170.7,384.8 L1174.2,382.0 L1177.8,379.1 L1181.4,376.1 L1185.0,372.9 L1188.5,369.7 L1192.1,366.3 L1195.7,362.9 L1199.3,359.3 L1202.9,355.6 L1206.4,351.9 L1210.0,348.0 L1213.6,344.0 L1217.2,339.9 L1220.8,335.7 L1224.3,331.4 L1227.9,327.0 L1231.5,322.5 L1235.1,317.9 L1238.6,313.2 L1242.2,308.4 L1245.8,303.5 L1249.4,298.5 L1253.0,293.4 L1256.5,288.2 L1260.1,282.9 L1263.7,277.5 L1267.3,272.0 L1270.8,266.4 L1274.4,260.7 L1278.0,254.9 L1281.6,249.0 L1285.2,243.0 L1288.7,236.9 L1292.3,230.8 L1295.9,224.5 L1299.5,218.1 L1303.1,211.6 L1306.6,205.1 L1310.2,198.4 L1313.8,191.6 L1317.4,184.8 L1321.0,177.8 L1324.5,170.8 L1328.1,163.7 L1331.7,156.4 L1335.3,149.1 L1338.8,141.7 L1342.4,134.2 L1346.0,126.6" fill="none" stroke="#70ffff" stroke-width="4.4" stroke-linejoin="round" stroke-linecap="butt"/>
<path d="M845.0,210.4 L848.6,215.8 L852.2,221.1 L855.7,226.4 L859.3,231.6 L862.9,236.7 L866.5,241.8 L870.0,246.8 L873.6,251.7 L877.2,256.6 L880.8,261.4 L884.4,266.1 L887.9,270.8 L891.5,275.4 L895.1,279.9 L898.7,284.4 L902.3,288.8 L905.8,293.1 L909.4,297.4 L913.0,301.5 L916.6,305.7 L920.1,309.7 L923.7,313.7 L927.3,317.6 L930.9,321.4 L934.5,325.2 L938.0,328.9 L941.6,332.5 L945.2,336.1 L948.8,339.6 L952.4,343.0 L955.9,346.3 L959.5,349.6 L963.1,352.8 L966.7,355.9 L970.2,359.0 L973.8,361.9 L977.4,364.8 L981.0,367.7 L984.6,370.4 L988.1,373.1 L991.7,375.7 L995.3,378.3 L998.9,380.7 L1002.5,383.1 L1006.0,385.4 L1009.6,387.6 L1013.2,389.8 L1016.8,391.8 L1020.4,393.8 L1023.9,395.7 L1027.5,397.6 L1031.1,399.3 L1034.7,401.0 L1038.2,402.6 L1041.8,404.1 L1045.4,405.5 L1049.0,406.9 L1052.6,408.1 L1056.1,409.3 L1059.7,410.4 L1063.3,411.4 L1066.9,412.3 L1070.5,413.1 L1074.0,413.8 L1077.6,414.4 L1081.2,415.0 L1084.8,415.4 L1088.3,415.7 L1091.9,415.9 L1095.5,416.0 L1099.1,415.9 L1102.7,415.7 L1106.2,415.4 L1109.8,415.0 L1113.4,414.4 L1117.0,413.8 L1120.5,413.1 L1124.1,412.3 L1127.7,411.4 L1131.3,410.4 L1134.9,409.3 L1138.4,408.1 L1142.0,406.9 L1145.6,405.5 L1149.2,404.1 L1152.8,402.6 L1156.3,401.0 L1159.9,399.3 L1163.5,397.6 L1167.1,395.7 L1170.7,393.8 L1174.2,391.8 L1177.8,389.8 L1181.4,387.6 L1185.0,385.4 L1188.5,383.1 L1192.1,380.7 L1195.7,378.3 L1199.3,375.7 L1202.9,373.1 L1206.4,370.4 L1210.0,367.7 L1213.6,364.8 L1217.2,361.9 L1220.8,359.0 L1224.3,355.9 L1227.9,352.8 L1231.5,349.6 L1235.1,346.3 L1238.6,343.0 L1242.2,339.6 L1245.8,336.1 L1249.4,332.5 L1253.0,328.9 L1256.5,325.2 L1260.1,321.4 L1263.7,317.6 L1267.3,313.7 L1270.8,309.7 L1274.4,305.7 L1278.0,301.5 L1281.6,297.4 L1285.2,293.1 L1288.7,288.8 L1292.3,284.4 L1295.9,279.9 L1299.5,275.4 L1303.1,270.8 L1306.6,266.1 L1310.2,261.4 L1313.8,256.6 L1317.4,251.7 L1321.0,246.8 L1324.5,241.8 L1328.1,236.7 L1331.7,231.6 L1335.3,226.4 L1338.8,221.1 L1342.4,215.8 L1346.0,210.4" fill="none" stroke="#38f038" stroke-width="4.4" stroke-linejoin="round" stroke-linecap="butt"/>
<path d="M845.0,358.0 L848.6,359.5 L852.2,361.0 L855.7,362.5 L859.3,364.0 L862.9,365.4 L866.5,366.9 L870.0,368.3 L873.6,369.7 L877.2,371.0 L880.8,372.4 L884.4,373.7 L887.9,375.0 L891.5,376.3 L895.1,377.6 L898.7,378.9 L902.3,380.1 L905.8,381.3 L909.4,382.5 L913.0,383.7 L916.6,384.9 L920.1,386.0 L923.7,387.1 L927.3,388.2 L930.9,389.3 L934.5,390.4 L938.0,391.4 L941.6,392.5 L945.2,393.5 L948.8,394.4 L952.4,395.4 L955.9,396.3 L959.5,397.3 L963.1,398.2 L966.7,399.1 L970.2,399.9 L973.8,400.8 L977.4,401.6 L981.0,402.4 L984.6,403.1 L988.1,403.9 L991.7,404.6 L995.3,405.4 L998.9,406.0 L1002.5,406.7 L1006.0,407.4 L1009.6,408.0 L1013.2,408.6 L1016.8,409.2 L1020.4,409.7 L1023.9,410.3 L1027.5,410.8 L1031.1,411.3 L1034.7,411.8 L1038.2,412.2 L1041.8,412.6 L1045.4,413.0 L1049.0,413.4 L1052.6,413.8 L1056.1,414.1 L1059.7,414.4 L1063.3,414.7 L1066.9,415.0 L1070.5,415.2 L1074.0,415.4 L1077.6,415.6 L1081.2,415.7 L1084.8,415.8 L1088.3,415.9 L1091.9,416.0 L1095.5,416.0 L1099.1,416.0 L1102.7,415.9 L1106.2,415.8 L1109.8,415.7 L1113.4,415.6 L1117.0,415.4 L1120.5,415.2 L1124.1,415.0 L1127.7,414.7 L1131.3,414.4 L1134.9,414.1 L1138.4,413.8 L1142.0,413.4 L1145.6,413.0 L1149.2,412.6 L1152.8,412.2 L1156.3,411.8 L1159.9,411.3 L1163.5,410.8 L1167.1,410.3 L1170.7,409.7 L1174.2,409.2 L1177.8,408.6 L1181.4,408.0 L1185.0,407.4 L1188.5,406.7 L1192.1,406.0 L1195.7,405.4 L1199.3,404.6 L1202.9,403.9 L1206.4,403.1 L1210.0,402.4 L1213.6,401.6 L1217.2,400.8 L1220.8,399.9 L1224.3,399.1 L1227.9,398.2 L1231.5,397.3 L1235.1,396.3 L1238.6,395.4 L1242.2,394.4 L1245.8,393.5 L1249.4,392.5 L1253.0,391.4 L1256.5,390.4 L1260.1,389.3 L1263.7,388.2 L1267.3,387.1 L1270.8,386.0 L1274.4,384.9 L1278.0,383.7 L1281.6,382.5 L1285.2,381.3 L1288.7,380.1 L1292.3,378.9 L1295.9,377.6 L1299.5,376.3 L1303.1,375.0 L1306.6,373.7 L1310.2,372.4 L1313.8,371.0 L1317.4,369.7 L1321.0,368.3 L1324.5,366.9 L1328.1,365.4 L1331.7,364.0 L1335.3,362.5 L1338.8,361.0 L1342.4,359.5 L1346.0,358.0" fill="none" stroke="#66ff00" stroke-width="4.4" stroke-linejoin="round" stroke-linecap="butt"/>
<path d="M845.0,400.7 L848.6,401.1 L852.2,401.5 L855.7,401.9 L859.3,402.2 L862.9,402.6 L866.5,403.0 L870.0,403.4 L873.6,403.7 L877.2,404.1 L880.8,404.5 L884.4,404.8 L887.9,405.2 L891.5,405.5 L895.1,405.8 L898.7,406.2 L902.3,406.5 L905.8,406.8 L909.4,407.1 L913.0,407.5 L916.6,407.8 L920.1,408.1 L923.7,408.4 L927.3,408.7 L930.9,408.9 L934.5,409.2 L938.0,409.5 L941.6,409.8 L945.2,410.0 L948.8,410.3 L952.4,410.6 L955.9,410.8 L959.5,411.0 L963.1,411.3 L966.7,411.5 L970.2,411.7 L973.8,412.0 L977.4,412.2 L981.0,412.4 L984.6,412.6 L988.1,412.8 L991.7,413.0 L995.3,413.2 L998.9,413.4 L1002.5,413.5 L1006.0,413.7 L1009.6,413.9 L1013.2,414.0 L1016.8,414.2 L1020.4,414.3 L1023.9,414.5 L1027.5,414.6 L1031.1,414.8 L1034.7,414.9 L1038.2,415.0 L1041.8,415.1 L1045.4,415.2 L1049.0,415.3 L1052.6,415.4 L1056.1,415.5 L1059.7,415.6 L1063.3,415.7 L1066.9,415.7 L1070.5,415.8 L1074.0,415.8 L1077.6,415.9 L1081.2,415.9 L1084.8,416.0 L1088.3,416.0 L1091.9,416.0 L1095.5,416.0 L1099.1,416.0 L1102.7,416.0 L1106.2,416.0 L1109.8,415.9 L1113.4,415.9 L1117.0,415.8 L1120.5,415.8 L1124.1,415.7 L1127.7,415.7 L1131.3,415.6 L1134.9,415.5 L1138.4,415.4 L1142.0,415.3 L1145.6,415.2 L1149.2,415.1 L1152.8,415.0 L1156.3,414.9 L1159.9,414.8 L1163.5,414.6 L1167.1,414.5 L1170.7,414.3 L1174.2,414.2 L1177.8,414.0 L1181.4,413.9 L1185.0,413.7 L1188.5,413.5 L1192.1,413.4 L1195.7,413.2 L1199.3,413.0 L1202.9,412.8 L1206.4,412.6 L1210.0,412.4 L1213.6,412.2 L1217.2,412.0 L1220.8,411.7 L1224.3,411.5 L1227.9,411.3 L1231.5,411.0 L1235.1,410.8 L1238.6,410.6 L1242.2,410.3 L1245.8,410.0 L1249.4,409.8 L1253.0,409.5 L1256.5,409.2 L1260.1,408.9 L1263.7,408.7 L1267.3,408.4 L1270.8,408.1 L1274.4,407.8 L1278.0,407.5 L1281.6,407.1 L1285.2,406.8 L1288.7,406.5 L1292.3,406.2 L1295.9,405.8 L1299.5,405.5 L1303.1,405.2 L1306.6,404.8 L1310.2,404.5 L1313.8,404.1 L1317.4,403.7 L1321.0,403.4 L1324.5,403.0 L1328.1,402.6 L1331.7,402.2 L1335.3,401.9 L1338.8,401.5 L1342.4,401.1 L1346.0,400.7" fill="none" stroke="#f6f63e" stroke-width="4.4" stroke-linejoin="round" stroke-linecap="butt"/>
<path d="M845.0,411.0 L848.6,411.1 L852.2,411.3 L855.7,411.4 L859.3,411.5 L862.9,411.6 L866.5,411.8 L870.0,411.9 L873.6,412.0 L877.2,412.1 L880.8,412.2 L884.4,412.4 L887.9,412.5 L891.5,412.6 L895.1,412.7 L898.7,412.8 L902.3,412.9 L905.8,413.0 L909.4,413.1 L913.0,413.2 L916.6,413.3 L920.1,413.4 L923.7,413.5 L927.3,413.6 L930.9,413.7 L934.5,413.8 L938.0,413.9 L941.6,414.0 L945.2,414.1 L948.8,414.1 L952.4,414.2 L955.9,414.3 L959.5,414.4 L963.1,414.5 L966.7,414.5 L970.2,414.6 L973.8,414.7 L977.4,414.8 L981.0,414.8 L984.6,414.9 L988.1,415.0 L991.7,415.0 L995.3,415.1 L998.9,415.1 L1002.5,415.2 L1006.0,415.3 L1009.6,415.3 L1013.2,415.4 L1016.8,415.4 L1020.4,415.5 L1023.9,415.5 L1027.5,415.6 L1031.1,415.6 L1034.7,415.6 L1038.2,415.7 L1041.8,415.7 L1045.4,415.7 L1049.0,415.8 L1052.6,415.8 L1056.1,415.8 L1059.7,415.9 L1063.3,415.9 L1066.9,415.9 L1070.5,415.9 L1074.0,415.9 L1077.6,416.0 L1081.2,416.0 L1084.8,416.0 L1088.3,416.0 L1091.9,416.0 L1095.5,416.0 L1099.1,416.0 L1102.7,416.0 L1106.2,416.0 L1109.8,416.0 L1113.4,416.0 L1117.0,415.9 L1120.5,415.9 L1124.1,415.9 L1127.7,415.9 L1131.3,415.9 L1134.9,415.8 L1138.4,415.8 L1142.0,415.8 L1145.6,415.7 L1149.2,415.7 L1152.8,415.7 L1156.3,415.6 L1159.9,415.6 L1163.5,415.6 L1167.1,415.5 L1170.7,415.5 L1174.2,415.4 L1177.8,415.4 L1181.4,415.3 L1185.0,415.3 L1188.5,415.2 L1192.1,415.1 L1195.7,415.1 L1199.3,415.0 L1202.9,415.0 L1206.4,414.9 L1210.0,414.8 L1213.6,414.8 L1217.2,414.7 L1220.8,414.6 L1224.3,414.5 L1227.9,414.5 L1231.5,414.4 L1235.1,414.3 L1238.6,414.2 L1242.2,414.1 L1245.8,414.1 L1249.4,414.0 L1253.0,413.9 L1256.5,413.8 L1260.1,413.7 L1263.7,413.6 L1267.3,413.5 L1270.8,413.4 L1274.4,413.3 L1278.0,413.2 L1281.6,413.1 L1285.2,413.0 L1288.7,412.9 L1292.3,412.8 L1295.9,412.7 L1299.5,412.6 L1303.1,412.5 L1306.6,412.4 L1310.2,412.2 L1313.8,412.1 L1317.4,412.0 L1321.0,411.9 L1324.5,411.8 L1328.1,411.6 L1331.7,411.5 L1335.3,411.4 L1338.8,411.3 L1342.4,411.1 L1346.0,411.0" fill="none" stroke="#e8b42e" stroke-width="4.4" stroke-linejoin="round" stroke-linecap="butt"/>
<path d="M845.0,413.8 L848.6,413.9 L852.2,413.9 L855.7,414.0 L859.3,414.0 L862.9,414.1 L866.5,414.2 L870.0,414.2 L873.6,414.3 L877.2,414.3 L880.8,414.4 L884.4,414.4 L887.9,414.5 L891.5,414.5 L895.1,414.6 L898.7,414.6 L902.3,414.7 L905.8,414.7 L909.4,414.7 L913.0,414.8 L916.6,414.8 L920.1,414.9 L923.7,414.9 L927.3,415.0 L930.9,415.0 L934.5,415.0 L938.0,415.1 L941.6,415.1 L945.2,415.2 L948.8,415.2 L952.4,415.2 L955.9,415.3 L959.5,415.3 L963.1,415.3 L966.7,415.4 L970.2,415.4 L973.8,415.4 L977.4,415.5 L981.0,415.5 L984.6,415.5 L988.1,415.5 L991.7,415.6 L995.3,415.6 L998.9,415.6 L1002.5,415.7 L1006.0,415.7 L1009.6,415.7 L1013.2,415.7 L1016.8,415.7 L1020.4,415.8 L1023.9,415.8 L1027.5,415.8 L1031.1,415.8 L1034.7,415.8 L1038.2,415.9 L1041.8,415.9 L1045.4,415.9 L1049.0,415.9 L1052.6,415.9 L1056.1,415.9 L1059.7,415.9 L1063.3,416.0 L1066.9,416.0 L1070.5,416.0 L1074.0,416.0 L1077.6,416.0 L1081.2,416.0 L1084.8,416.0 L1088.3,416.0 L1091.9,416.0 L1095.5,416.0 L1099.1,416.0 L1102.7,416.0 L1106.2,416.0 L1109.8,416.0 L1113.4,416.0 L1117.0,416.0 L1120.5,416.0 L1124.1,416.0 L1127.7,416.0 L1131.3,415.9 L1134.9,415.9 L1138.4,415.9 L1142.0,415.9 L1145.6,415.9 L1149.2,415.9 L1152.8,415.9 L1156.3,415.8 L1159.9,415.8 L1163.5,415.8 L1167.1,415.8 L1170.7,415.8 L1174.2,415.7 L1177.8,415.7 L1181.4,415.7 L1185.0,415.7 L1188.5,415.7 L1192.1,415.6 L1195.7,415.6 L1199.3,415.6 L1202.9,415.5 L1206.4,415.5 L1210.0,415.5 L1213.6,415.5 L1217.2,415.4 L1220.8,415.4 L1224.3,415.4 L1227.9,415.3 L1231.5,415.3 L1235.1,415.3 L1238.6,415.2 L1242.2,415.2 L1245.8,415.2 L1249.4,415.1 L1253.0,415.1 L1256.5,415.0 L1260.1,415.0 L1263.7,415.0 L1267.3,414.9 L1270.8,414.9 L1274.4,414.8 L1278.0,414.8 L1281.6,414.7 L1285.2,414.7 L1288.7,414.7 L1292.3,414.6 L1295.9,414.6 L1299.5,414.5 L1303.1,414.5 L1306.6,414.4 L1310.2,414.4 L1313.8,414.3 L1317.4,414.3 L1321.0,414.2 L1324.5,414.2 L1328.1,414.1 L1331.7,414.0 L1335.3,414.0 L1338.8,413.9 L1342.4,413.9 L1346.0,413.8" fill="none" stroke="#ff6a1a" stroke-width="4.4" stroke-linejoin="round" stroke-linecap="butt"/>
<path d="M845.0,416.0 L848.6,416.0 L852.2,416.0 L855.7,416.0 L859.3,416.0 L862.9,416.0 L866.5,416.0 L870.0,416.0 L873.6,416.0 L877.2,416.0 L880.8,416.0 L884.4,416.0 L887.9,416.0 L891.5,416.0 L895.1,416.0 L898.7,416.0 L902.3,416.0 L905.8,416.0 L909.4,416.0 L913.0,416.0 L916.6,416.0 L920.1,416.0 L923.7,416.0 L927.3,416.0 L930.9,416.0 L934.5,416.0 L938.0,416.0 L941.6,416.0 L945.2,416.0 L948.8,416.0 L952.4,416.0 L955.9,416.0 L959.5,416.0 L963.1,416.0 L966.7,416.0 L970.2,416.0 L973.8,416.0 L977.4,416.0 L981.0,416.0 L984.6,416.0 L988.1,416.0 L991.7,416.0 L995.3,416.0 L998.9,416.0 L1002.5,416.0 L1006.0,416.0 L1009.6,416.0 L1013.2,416.0 L1016.8,416.0 L1020.4,416.0 L1023.9,416.0 L1027.5,416.0 L1031.1,416.0 L1034.7,416.0 L1038.2,416.0 L1041.8,416.0 L1045.4,416.0 L1049.0,416.0 L1052.6,416.0 L1056.1,416.0 L1059.7,416.0 L1063.3,416.0 L1066.9,416.0 L1070.5,416.0 L1074.0,416.0 L1077.6,416.0 L1081.2,416.0 L1084.8,416.0 L1088.3,416.0 L1091.9,416.0 L1095.5,416.0 L1099.1,416.0 L1102.7,416.0 L1106.2,416.0 L1109.8,416.0 L1113.4,416.0 L1117.0,416.0 L1120.5,416.0 L1124.1,416.0 L1127.7,416.0 L1131.3,416.0 L1134.9,416.0 L1138.4,416.0 L1142.0,416.0 L1145.6,416.0 L1149.2,416.0 L1152.8,416.0 L1156.3,416.0 L1159.9,416.0 L1163.5,416.0 L1167.1,416.0 L1170.7,416.0 L1174.2,416.0 L1177.8,416.0 L1181.4,416.0 L1185.0,416.0 L1188.5,416.0 L1192.1,416.0 L1195.7,416.0 L1199.3,416.0 L1202.9,416.0 L1206.4,416.0 L1210.0,416.0 L1213.6,416.0 L1217.2,416.0 L1220.8,416.0 L1224.3,416.0 L1227.9,416.0 L1231.5,416.0 L1235.1,416.0 L1238.6,416.0 L1242.2,416.0 L1245.8,416.0 L1249.4,416.0 L1253.0,416.0 L1256.5,416.0 L1260.1,416.0 L1263.7,416.0 L1267.3,416.0 L1270.8,416.0 L1274.4,416.0 L1278.0,416.0 L1281.6,416.0 L1285.2,416.0 L1288.7,416.0 L1292.3,416.0 L1295.9,416.0 L1299.5,416.0 L1303.1,416.0 L1306.6,416.0 L1310.2,416.0 L1313.8,416.0 L1317.4,416.0 L1321.0,416.0 L1324.5,416.0 L1328.1,416.0 L1331.7,416.0 L1335.3,416.0 L1338.8,416.0 L1342.4,416.0 L1346.0,416.0" fill="none" stroke="#ff1a0a" stroke-width="4.4" stroke-linejoin="round" stroke-linecap="butt"/>
</g>
<text x="835.3" y="427.6" font-size="37" text-anchor="end" >0</text>
<text x="835.3" y="319.2" font-size="37" text-anchor="end" >10</text>
<text x="835.3" y="210.8" font-size="37" text-anchor="end" >20</text>
<text x="835.3" y="102.40000000000002" font-size="37" text-anchor="end" >30</text>
<text x="916.5714285714286" y="472.5" font-size="37" text-anchor="middle" >-5</text>
<text x="1095.5" y="472.5" font-size="37" text-anchor="middle" >0</text>
<text x="1274.4285714285713" y="472.5" font-size="37" text-anchor="middle" >5</text>
<text x="1096" y="515.4" font-size="38" text-anchor="middle"><tspan font-style="italic">B</tspan> (T)</text>
<text x="731" y="37" font-size="51.5" text-anchor="start" >(b)</text>
<g transform="translate(767.5,327) rotate(-90)"><text x="0" y="0" font-size="37.5" letter-spacing="0.5">MR(10</text><text x="110" y="-19" font-size="27">2</text><text x="124" y="0" font-size="37.5" letter-spacing="0.5">%)</text></g>
<line x1="1051" y1="47.25" x2="1088" y2="47.25" stroke="#8f00ff" stroke-width="4.5"/>
<text x="1091" y="55.25" font-size="22.5" text-anchor="start" >6K</text>
<line x1="1051" y1="72.88" x2="1088" y2="72.88" stroke="#1800ff" stroke-width="4.5"/>
<text x="1091" y="80.88" font-size="22.5" text-anchor="start" >10K</text>
<line x1="1051" y1="98.50999999999999" x2="1088" y2="98.50999999999999" stroke="#3d55ff" stroke-width="4.5"/>
<text x="1091" y="106.50999999999999" font-size="22.5" text-anchor="start" >15K</text>
<line x1="1051" y1="124.14" x2="1088" y2="124.14" stroke="#70ffff" stroke-width="4.5"/>
<text x="1091" y="132.14" font-size="22.5" text-anchor="start" >20K</text>
<line x1="1051" y1="149.76999999999998" x2="1088" y2="149.76999999999998" stroke="#38f038" stroke-width="4.5"/>
<text x="1091" y="157.76999999999998" font-size="22.5" text-anchor="start" >30K</text>
<line x1="1051" y1="175.4" x2="1088" y2="175.4" stroke="#66ff00" stroke-width="4.5"/>
<text x="1091" y="183.4" font-size="22.5" text-anchor="start" >50K</text>
<line x1="1051" y1="201.03" x2="1088" y2="201.03" stroke="#f6f63e" stroke-width="4.5"/>
<text x="1091" y="209.03" font-size="22.5" text-anchor="start" >70K</text>
<line x1="1051" y1="226.66" x2="1088" y2="226.66" stroke="#e8b42e" stroke-width="4.5"/>
<text x="1091" y="234.66" font-size="22.5" text-anchor="start" >90K</text>
<line x1="1051" y1="252.29" x2="1088" y2="252.29" stroke="#ff6a1a" stroke-width="4.5"/>
<text x="1091" y="260.28999999999996" font-size="22.5" text-anchor="start" >150K</text>
<line x1="1051" y1="277.91999999999996" x2="1088" y2="277.91999999999996" stroke="#ff1a0a" stroke-width="4.5"/>
<text x="1091" y="285.91999999999996" font-size="22.5" text-anchor="start" >200K</text>
<rect x="152.0" y="540.6" width="499.1" height="404.5" fill="none" stroke="#222" stroke-width="4.2"/>
<g stroke="#222" stroke-width="4">
<line x1="223.3" y1="540.6" x2="223.3" y2="547.6"/>
<line x1="223.3" y1="945.1" x2="223.3" y2="938.1"/>
<line x1="401.55" y1="540.6" x2="401.55" y2="547.6"/>
<line x1="401.55" y1="945.1" x2="401.55" y2="938.1"/>
<line x1="579.8" y1="540.6" x2="579.8" y2="547.6"/>
<line x1="579.8" y1="945.1" x2="579.8" y2="938.1"/>
<line x1="152.0" y1="617.7" x2="159.0" y2="617.7"/>
<line x1="651.1" y1="617.7" x2="644.1" y2="617.7"/>
<line x1="152.0" y1="743.1" x2="159.0" y2="743.1"/>
<line x1="651.1" y1="743.1" x2="644.1" y2="743.1"/>
<line x1="152.0" y1="868.5" x2="159.0" y2="868.5"/>
<line x1="651.1" y1="868.5" x2="644.1" y2="868.5"/>
</g>
<g>
<path d="M152.0,567.0 L159.1,573.3 L166.3,579.5 L173.4,585.6 L180.5,591.6 L187.7,597.5 L194.8,603.3 L201.9,609.0 L209.0,614.6 L216.2,620.1 L223.3,625.5 L230.4,630.9 L237.6,636.2 L244.7,641.4 L251.8,646.5 L258.9,651.5 L266.1,656.5 L273.2,661.4 L280.3,666.3 L287.5,671.1 L294.6,675.9 L301.7,680.6 L308.9,685.2 L316.0,689.8 L323.1,694.4 L330.2,699.0 L337.4,703.5 L344.5,707.9 L351.6,712.4 L358.8,716.8 L365.9,721.2 L373.0,725.6 L380.2,730.0 L387.3,734.4 L394.4,738.7 L401.6,743.1 L408.7,747.5 L415.8,751.8 L422.9,756.2 L430.1,760.6 L437.2,765.0 L444.3,769.4 L451.5,773.8 L458.6,778.3 L465.7,782.7 L472.9,787.2 L480.0,791.8 L487.1,796.4 L494.2,801.0 L501.4,805.6 L508.5,810.3 L515.6,815.1 L522.8,819.9 L529.9,824.8 L537.0,829.7 L544.2,834.7 L551.3,839.7 L558.4,844.8 L565.5,850.0 L572.7,855.3 L579.8,860.7 L586.9,866.1 L594.1,871.6 L601.2,877.2 L608.3,882.9 L615.5,888.7 L622.6,894.6 L629.7,900.6 L636.8,906.7 L644.0,912.9 L651.1,919.2" fill="none" stroke="#8f00ff" stroke-width="4.5" stroke-linejoin="round" stroke-linecap="butt"/>
<path d="M152.0,568.1 L159.1,574.3 L166.3,580.5 L173.4,586.5 L180.5,592.5 L187.7,598.3 L194.8,604.1 L201.9,609.7 L209.0,615.3 L216.2,620.8 L223.3,626.2 L230.4,631.5 L237.6,636.7 L244.7,641.9 L251.8,647.0 L258.9,652.0 L266.1,656.9 L273.2,661.8 L280.3,666.7 L287.5,671.4 L294.6,676.2 L301.7,680.9 L308.9,685.5 L316.0,690.1 L323.1,694.6 L330.2,699.2 L337.4,703.6 L344.5,708.1 L351.6,712.5 L358.8,716.9 L365.9,721.3 L373.0,725.7 L380.2,730.1 L387.3,734.4 L394.4,738.8 L401.6,743.1 L408.7,747.4 L415.8,751.8 L422.9,756.1 L430.1,760.5 L437.2,764.9 L444.3,769.3 L451.5,773.7 L458.6,778.1 L465.7,782.6 L472.9,787.0 L480.0,791.6 L487.1,796.1 L494.2,800.7 L501.4,805.3 L508.5,810.0 L515.6,814.8 L522.8,819.5 L529.9,824.4 L537.0,829.3 L544.2,834.2 L551.3,839.2 L558.4,844.3 L565.5,849.5 L572.7,854.7 L579.8,860.0 L586.9,865.4 L594.1,870.9 L601.2,876.5 L608.3,882.1 L615.5,887.9 L622.6,893.7 L629.7,899.7 L636.8,905.7 L644.0,911.9 L651.1,918.1" fill="none" stroke="#1800ff" stroke-width="4.5" stroke-linejoin="round" stroke-linecap="butt"/>
<path d="M152.0,568.8 L159.1,575.1 L166.3,581.2 L173.4,587.2 L180.5,593.1 L187.7,598.9 L194.8,604.7 L201.9,610.3 L209.0,615.8 L216.2,621.3 L223.3,626.6 L230.4,631.9 L237.6,637.1 L244.7,642.3 L251.8,647.3 L258.9,652.3 L266.1,657.2 L273.2,662.1 L280.3,666.9 L287.5,671.7 L294.6,676.4 L301.7,681.1 L308.9,685.7 L316.0,690.3 L323.1,694.8 L330.2,699.3 L337.4,703.8 L344.5,708.2 L351.6,712.6 L358.8,717.0 L365.9,721.4 L373.0,725.8 L380.2,730.1 L387.3,734.4 L394.4,738.8 L401.6,743.1 L408.7,747.4 L415.8,751.8 L422.9,756.1 L430.1,760.4 L437.2,764.8 L444.3,769.2 L451.5,773.6 L458.6,778.0 L465.7,782.4 L472.9,786.9 L480.0,791.4 L487.1,795.9 L494.2,800.5 L501.4,805.1 L508.5,809.8 L515.6,814.5 L522.8,819.3 L529.9,824.1 L537.0,829.0 L544.2,833.9 L551.3,838.9 L558.4,843.9 L565.5,849.1 L572.7,854.3 L579.8,859.6 L586.9,864.9 L594.1,870.4 L601.2,875.9 L608.3,881.5 L615.5,887.3 L622.6,893.1 L629.7,899.0 L636.8,905.0 L644.0,911.1 L651.1,917.4" fill="none" stroke="#3d55ff" stroke-width="4.5" stroke-linejoin="round" stroke-linecap="butt"/>
<path d="M152.0,569.9 L159.1,576.1 L166.3,582.1 L173.4,588.1 L180.5,593.9 L187.7,599.6 L194.8,605.3 L201.9,610.9 L209.0,616.3 L216.2,621.7 L223.3,627.1 L230.4,632.3 L237.6,637.5 L244.7,642.6 L251.8,647.6 L258.9,652.6 L266.1,657.5 L273.2,662.3 L280.3,667.1 L287.5,671.8 L294.6,676.5 L301.7,681.2 L308.9,685.8 L316.0,690.3 L323.1,694.9 L330.2,699.4 L337.4,703.8 L344.5,708.2 L351.6,712.7 L358.8,717.0 L365.9,721.4 L373.0,725.8 L380.2,730.1 L387.3,734.4 L394.4,738.8 L401.6,743.1 L408.7,747.4 L415.8,751.8 L422.9,756.1 L430.1,760.4 L437.2,764.8 L444.3,769.2 L451.5,773.5 L458.6,778.0 L465.7,782.4 L472.9,786.8 L480.0,791.3 L487.1,795.9 L494.2,800.4 L501.4,805.0 L508.5,809.7 L515.6,814.4 L522.8,819.1 L529.9,823.9 L537.0,828.7 L544.2,833.6 L551.3,838.6 L558.4,843.6 L565.5,848.7 L572.7,853.9 L579.8,859.1 L586.9,864.5 L594.1,869.9 L601.2,875.3 L608.3,880.9 L615.5,886.6 L622.6,892.3 L629.7,898.1 L636.8,904.1 L644.0,910.1 L651.1,916.3" fill="none" stroke="#70ffff" stroke-width="4.5" stroke-linejoin="round" stroke-linecap="butt"/>
<path d="M152.0,574.3 L159.1,580.4 L166.3,586.4 L173.4,592.2 L180.5,598.0 L187.7,603.7 L194.8,609.3 L201.9,614.8 L209.0,620.2 L216.2,625.5 L223.3,630.7 L230.4,635.8 L237.6,640.9 L244.7,645.9 L251.8,650.8 L258.9,655.6 L266.1,660.4 L273.2,665.1 L280.3,669.8 L287.5,674.4 L294.6,678.9 L301.7,683.4 L308.9,687.9 L316.0,692.3 L323.1,696.7 L330.2,701.0 L337.4,705.3 L344.5,709.6 L351.6,713.8 L358.8,718.1 L365.9,722.3 L373.0,726.4 L380.2,730.6 L387.3,734.8 L394.4,738.9 L401.6,743.1 L408.7,747.3 L415.8,751.4 L422.9,755.6 L430.1,759.8 L437.2,763.9 L444.3,768.1 L451.5,772.4 L458.6,776.6 L465.7,780.9 L472.9,785.2 L480.0,789.5 L487.1,793.9 L494.2,798.3 L501.4,802.8 L508.5,807.3 L515.6,811.8 L522.8,816.4 L529.9,821.1 L537.0,825.8 L544.2,830.6 L551.3,835.4 L558.4,840.3 L565.5,845.3 L572.7,850.4 L579.8,855.5 L586.9,860.7 L594.1,866.0 L601.2,871.4 L608.3,876.9 L615.5,882.5 L622.6,888.2 L629.7,894.0 L636.8,899.8 L644.0,905.8 L651.1,911.9" fill="none" stroke="#38f038" stroke-width="4.5" stroke-linejoin="round" stroke-linecap="butt"/>
<path d="M152.0,591.0 L159.1,595.8 L166.3,600.5 L173.4,605.2 L180.5,609.9 L187.7,614.5 L194.8,619.1 L201.9,623.7 L209.0,628.2 L216.2,632.7 L223.3,637.2 L230.4,641.6 L237.6,646.1 L244.7,650.5 L251.8,654.8 L258.9,659.2 L266.1,663.5 L273.2,667.8 L280.3,672.1 L287.5,676.4 L294.6,680.6 L301.7,684.9 L308.9,689.1 L316.0,693.3 L323.1,697.5 L330.2,701.7 L337.4,705.9 L344.5,710.0 L351.6,714.2 L358.8,718.3 L365.9,722.5 L373.0,726.6 L380.2,730.7 L387.3,734.9 L394.4,739.0 L401.6,743.1 L408.7,747.2 L415.8,751.3 L422.9,755.5 L430.1,759.6 L437.2,763.7 L444.3,767.9 L451.5,772.0 L458.6,776.2 L465.7,780.3 L472.9,784.5 L480.0,788.7 L487.1,792.9 L494.2,797.1 L501.4,801.3 L508.5,805.6 L515.6,809.8 L522.8,814.1 L529.9,818.4 L537.0,822.7 L544.2,827.0 L551.3,831.4 L558.4,835.7 L565.5,840.1 L572.7,844.6 L579.8,849.0 L586.9,853.5 L594.1,858.0 L601.2,862.5 L608.3,867.1 L615.5,871.7 L622.6,876.3 L629.7,881.0 L636.8,885.7 L644.0,890.4 L651.1,895.2" fill="none" stroke="#66ff00" stroke-width="4.5" stroke-linejoin="round" stroke-linecap="butt"/>
<path d="M152.0,605.2 L159.1,609.2 L166.3,613.2 L173.4,617.1 L180.5,621.1 L187.7,625.0 L194.8,629.0 L201.9,633.0 L209.0,636.9 L216.2,640.9 L223.3,644.8 L230.4,648.7 L237.6,652.7 L244.7,656.6 L251.8,660.6 L258.9,664.5 L266.1,668.5 L273.2,672.4 L280.3,676.3 L287.5,680.3 L294.6,684.2 L301.7,688.1 L308.9,692.1 L316.0,696.0 L323.1,699.9 L330.2,703.8 L337.4,707.8 L344.5,711.7 L351.6,715.6 L358.8,719.5 L365.9,723.5 L373.0,727.4 L380.2,731.3 L387.3,735.3 L394.4,739.2 L401.6,743.1 L408.7,747.0 L415.8,750.9 L422.9,754.9 L430.1,758.8 L437.2,762.7 L444.3,766.7 L451.5,770.6 L458.6,774.5 L465.7,778.4 L472.9,782.4 L480.0,786.3 L487.1,790.2 L494.2,794.1 L501.4,798.1 L508.5,802.0 L515.6,805.9 L522.8,809.9 L529.9,813.8 L537.0,817.7 L544.2,821.7 L551.3,825.6 L558.4,829.6 L565.5,833.5 L572.7,837.5 L579.8,841.4 L586.9,845.3 L594.1,849.3 L601.2,853.2 L608.3,857.2 L615.5,861.2 L622.6,865.1 L629.7,869.1 L636.8,873.0 L644.0,877.0 L651.1,881.0" fill="none" stroke="#f6f63e" stroke-width="4.5" stroke-linejoin="round" stroke-linecap="butt"/>
<path d="M152.0,602.1 L159.1,605.7 L166.3,609.4 L173.4,613.1 L180.5,616.8 L187.7,620.6 L194.8,624.4 L201.9,628.2 L209.0,632.1 L216.2,636.0 L223.3,639.9 L230.4,643.8 L237.6,647.7 L244.7,651.7 L251.8,655.7 L258.9,659.7 L266.1,663.8 L273.2,667.9 L280.3,671.9 L287.5,676.0 L294.6,680.1 L301.7,684.3 L308.9,688.4 L316.0,692.6 L323.1,696.7 L330.2,700.9 L337.4,705.1 L344.5,709.3 L351.6,713.5 L358.8,717.7 L365.9,721.9 L373.0,726.2 L380.2,730.4 L387.3,734.6 L394.4,738.9 L401.6,743.1 L408.7,747.3 L415.8,751.6 L422.9,755.8 L430.1,760.0 L437.2,764.3 L444.3,768.5 L451.5,772.7 L458.6,776.9 L465.7,781.1 L472.9,785.3 L480.0,789.5 L487.1,793.6 L494.2,797.8 L501.4,801.9 L508.5,806.1 L515.6,810.2 L522.8,814.3 L529.9,818.3 L537.0,822.4 L544.2,826.5 L551.3,830.5 L558.4,834.5 L565.5,838.5 L572.7,842.4 L579.8,846.3 L586.9,850.2 L594.1,854.1 L601.2,858.0 L608.3,861.8 L615.5,865.6 L622.6,869.4 L629.7,873.1 L636.8,876.8 L644.0,880.5 L651.1,884.1" fill="none" stroke="#e8b42e" stroke-width="4.5" stroke-linejoin="round" stroke-linecap="butt"/>
<path d="M152.0,598.6 L159.1,603.6 L166.3,608.4 L173.4,613.3 L180.5,618.0 L187.7,622.7 L194.8,627.3 L201.9,631.9 L209.0,636.4 L216.2,640.8 L223.3,645.2 L230.4,649.5 L237.6,653.8 L244.7,658.0 L251.8,662.2 L258.9,666.3 L266.1,670.4 L273.2,674.5 L280.3,678.5 L287.5,682.5 L294.6,686.5 L301.7,690.4 L308.9,694.3 L316.0,698.1 L323.1,702.0 L330.2,705.8 L337.4,709.6 L344.5,713.3 L351.6,717.1 L358.8,720.8 L365.9,724.6 L373.0,728.3 L380.2,732.0 L387.3,735.7 L394.4,739.4 L401.6,743.1 L408.7,746.8 L415.8,750.5 L422.9,754.2 L430.1,757.9 L437.2,761.6 L444.3,765.4 L451.5,769.1 L458.6,772.9 L465.7,776.6 L472.9,780.4 L480.0,784.2 L487.1,788.1 L494.2,791.9 L501.4,795.8 L508.5,799.7 L515.6,803.7 L522.8,807.7 L529.9,811.7 L537.0,815.8 L544.2,819.9 L551.3,824.0 L558.4,828.2 L565.5,832.4 L572.7,836.7 L579.8,841.0 L586.9,845.4 L594.1,849.8 L601.2,854.3 L608.3,858.9 L615.5,863.5 L622.6,868.2 L629.7,872.9 L636.8,877.8 L644.0,882.6 L651.1,887.6" fill="none" stroke="#ff6a1a" stroke-width="4.5" stroke-linejoin="round" stroke-linecap="butt"/>
<path d="M152.0,610.3 L159.1,614.2 L166.3,618.2 L173.4,622.1 L180.5,626.0 L187.7,629.9 L194.8,633.8 L201.9,637.7 L209.0,641.6 L216.2,645.4 L223.3,649.3 L230.4,653.1 L237.6,656.9 L244.7,660.7 L251.8,664.5 L258.9,668.3 L266.1,672.1 L273.2,675.9 L280.3,679.7 L287.5,683.5 L294.6,687.2 L301.7,691.0 L308.9,694.7 L316.0,698.5 L323.1,702.2 L330.2,705.9 L337.4,709.7 L344.5,713.4 L351.6,717.1 L358.8,720.8 L365.9,724.5 L373.0,728.3 L380.2,732.0 L387.3,735.7 L394.4,739.4 L401.6,743.1 L408.7,746.8 L415.8,750.5 L422.9,754.2 L430.1,757.9 L437.2,761.7 L444.3,765.4 L451.5,769.1 L458.6,772.8 L465.7,776.5 L472.9,780.3 L480.0,784.0 L487.1,787.7 L494.2,791.5 L501.4,795.2 L508.5,799.0 L515.6,802.7 L522.8,806.5 L529.9,810.3 L537.0,814.1 L544.2,817.9 L551.3,821.7 L558.4,825.5 L565.5,829.3 L572.7,833.1 L579.8,836.9 L586.9,840.8 L594.1,844.6 L601.2,848.5 L608.3,852.4 L615.5,856.3 L622.6,860.2 L629.7,864.1 L636.8,868.0 L644.0,872.0 L651.1,875.9" fill="none" stroke="#ff1a0a" stroke-width="4.5" stroke-linejoin="round" stroke-linecap="butt"/>
</g>
<text x="141.3" y="630.0" font-size="37" text-anchor="end" >0.5</text>
<text x="141.3" y="755.4" font-size="37" text-anchor="end" >0</text>
<text x="141.3" y="880.8" font-size="37" text-anchor="end" >-0.5</text>
<text x="223.3" y="989.5" font-size="37" text-anchor="middle" >-5</text>
<text x="401.55" y="989.5" font-size="37" text-anchor="middle" >0</text>
<text x="579.8" y="989.5" font-size="37" text-anchor="middle" >5</text>
<text x="401.5" y="1031.5" font-size="38" text-anchor="middle"><tspan font-style="italic">B</tspan> (T)</text>
<text x="0" y="559" font-size="51.5" text-anchor="start" >(c)</text>
<g transform="translate(55.3,832) rotate(-90)"><text x="0" y="0" font-size="37" font-style="italic">ρ</text><text x="19.5" y="18.5" font-size="27">yx</text><text x="49" y="0" font-size="37" letter-spacing="0.6">(<tspan font-style="italic">μ</tspan>Ω cm)</text></g>
<rect x="845.6" y="539.3" width="500.1" height="404.20000000000005" fill="none" stroke="#222" stroke-width="4.2"/>
<g stroke="#222" stroke-width="4">
<line x1="988.4857142857143" y1="539.3" x2="988.4857142857143" y2="546.3"/>
<line x1="988.4857142857143" y1="943.5" x2="988.4857142857143" y2="936.5"/>
<line x1="1131.3714285714286" y1="539.3" x2="1131.3714285714286" y2="546.3"/>
<line x1="1131.3714285714286" y1="943.5" x2="1131.3714285714286" y2="936.5"/>
<line x1="1274.2571428571428" y1="539.3" x2="1274.2571428571428" y2="546.3"/>
<line x1="1274.2571428571428" y1="943.5" x2="1274.2571428571428" y2="936.5"/>
<line x1="845.6" y1="578.9" x2="852.6" y2="578.9"/>
<line x1="1345.7" y1="578.9" x2="1338.7" y2="578.9"/>
<line x1="845.6" y1="660.0" x2="852.6" y2="660.0"/>
<line x1="1345.7" y1="660.0" x2="1338.7" y2="660.0"/>
<line x1="845.6" y1="741.1" x2="852.6" y2="741.1"/>
<line x1="1345.7" y1="741.1" x2="1338.7" y2="741.1"/>
<line x1="845.6" y1="822.2" x2="852.6" y2="822.2"/>
<line x1="1345.7" y1="822.2" x2="1338.7" y2="822.2"/>
<line x1="845.6" y1="903.3" x2="852.6" y2="903.3"/>
<line x1="1345.7" y1="903.3" x2="1338.7" y2="903.3"/>
</g>
<g>
<path d="M845.6,659.6 C846.1,666.5 847.7,686.6 848.8,701.2 C849.9,715.8 850.9,731.9 852.2,747.3 C853.5,762.7 855.1,778.9 856.8,793.5 C858.5,808.1 860.7,823.5 862.6,835.0 C864.5,846.5 866.3,854.6 868.4,862.7 C870.5,870.8 873.0,879.1 875.3,883.5 C877.6,887.9 879.5,889.2 882.2,889.2 C884.9,889.2 888.4,886.8 891.5,883.5 C894.6,880.2 897.2,875.0 900.7,869.6 C904.2,864.2 908.1,858.6 912.2,851.2 C916.3,843.8 920.8,833.4 925.5,825.0 C930.2,816.6 935.5,808.4 940.2,801.0 C944.9,793.6 948.0,788.6 953.6,780.5 C959.2,772.4 967.1,760.1 973.8,752.3 C980.5,744.4 987.3,738.8 994.0,733.4 C1000.7,728.0 1006.4,724.5 1014.2,720.0 C1022.1,715.5 1032.1,710.6 1041.1,706.5 C1050.1,702.4 1049.8,700.2 1068.0,695.1 C1086.2,690.0 1118.5,680.5 1150.0,676.0 C1181.5,671.5 1224.2,669.8 1256.7,668.0 C1289.2,666.2 1330.0,665.8 1344.7,665.3" fill="none" stroke="#8f00ff" stroke-width="4.4" stroke-linejoin="round"/>
<path d="M845.6,659.6 C846.2,666.5 848.0,686.4 849.2,701.0 C850.4,715.6 851.6,732.0 853.0,747.0 C854.4,762.0 856.0,777.2 857.8,791.0 C859.6,804.8 862.0,819.3 864.0,830.0 C866.0,840.7 867.8,848.2 870.0,855.0 C872.2,861.8 874.9,867.8 877.5,871.0 C880.1,874.2 883.1,874.4 885.7,874.2 C888.3,874.0 889.8,873.0 893.0,870.0 C896.2,867.0 900.8,861.7 905.0,856.0 C909.2,850.3 913.3,843.5 918.0,836.0 C922.7,828.5 928.0,819.2 933.0,811.0 C938.0,802.8 942.2,795.0 948.0,786.5 C953.8,778.0 960.3,768.7 968.0,760.0 C975.7,751.3 986.3,740.9 994.0,734.4 C1001.7,727.9 1006.4,725.5 1014.2,721.0 C1022.1,716.5 1032.1,711.6 1041.1,707.5 C1050.1,703.4 1049.8,701.3 1068.0,696.1 C1086.2,690.9 1118.5,681.1 1150.0,676.5 C1181.5,671.9 1224.2,670.3 1256.7,668.5 C1289.2,666.7 1330.0,666.0 1344.7,665.5" fill="none" stroke="#1800ff" stroke-width="4.4" stroke-linejoin="round"/>
<path d="M845.6,659.6 C846.2,666.5 848.2,686.6 849.5,701.0 C850.8,715.4 852.0,731.3 853.5,746.0 C855.0,760.7 856.6,775.7 858.5,789.0 C860.4,802.3 862.9,816.0 865.0,826.0 C867.1,836.0 868.8,842.7 871.0,849.0 C873.2,855.3 875.9,861.0 878.5,864.0 C881.1,867.0 884.2,867.5 886.8,867.3 C889.4,867.1 891.0,865.9 894.0,863.0 C897.0,860.1 901.0,855.3 905.0,850.0 C909.0,844.7 913.3,838.0 918.0,831.0 C922.7,824.0 928.0,815.4 933.0,808.0 C938.0,800.6 942.2,794.4 948.0,786.5 C953.8,778.6 960.3,769.1 968.0,760.5 C975.7,751.9 986.3,741.5 994.0,735.0 C1001.7,728.5 1006.4,726.0 1014.2,721.5 C1022.1,717.0 1032.1,712.1 1041.1,708.0 C1050.1,703.9 1049.8,701.8 1068.0,696.6 C1086.2,691.4 1118.5,681.6 1150.0,677.0 C1181.5,672.4 1224.2,670.8 1256.7,669.0 C1289.2,667.2 1330.0,666.5 1344.7,666.0" fill="none" stroke="#3d55ff" stroke-width="4.4" stroke-linejoin="round"/>
<path d="M845.6,659.6 C846.0,664.7 847.1,679.2 848.0,690.0 C848.9,700.8 849.6,710.8 851.1,724.2 C852.6,737.6 854.3,755.0 856.8,770.4 C859.3,785.8 862.6,803.4 866.1,816.5 C869.6,829.6 874.0,841.9 877.6,848.8 C881.2,855.7 884.9,857.3 888.0,858.1 C891.1,858.9 893.2,856.2 896.0,853.5 C898.8,850.8 901.3,846.8 905.0,842.0 C908.7,837.2 913.3,831.2 918.0,825.0 C922.7,818.8 928.0,811.5 933.0,805.0 C938.0,798.5 942.2,793.4 948.0,786.0 C953.8,778.6 960.3,768.6 968.0,760.5 C975.7,752.4 986.3,743.4 994.0,737.1 C1001.7,730.8 1006.4,727.2 1014.2,722.5 C1022.1,717.8 1032.1,713.1 1041.1,709.0 C1050.1,704.9 1049.8,702.8 1068.0,697.6 C1086.2,692.4 1118.5,682.7 1150.0,678.0 C1181.5,673.3 1224.2,671.4 1256.7,669.5 C1289.2,667.6 1330.0,667.0 1344.7,666.5" fill="none" stroke="#70ffff" stroke-width="4.4" stroke-linejoin="round"/>
<path d="M845.6,659.6 C845.9,661.1 846.1,658.0 847.6,668.8 C849.1,679.6 852.2,708.0 854.5,724.2 C856.8,740.4 858.8,753.5 861.5,765.8 C864.2,778.1 867.2,789.2 870.7,798.1 C874.2,807.0 878.0,814.3 882.2,818.9 C886.4,823.5 891.5,825.4 896.1,825.8 C900.7,826.2 905.9,823.4 909.9,821.2 C913.9,819.0 915.0,817.3 920.0,812.5 C925.0,807.7 933.5,798.8 940.2,792.3 C946.9,785.8 953.7,779.4 960.4,773.4 C967.1,767.4 973.9,761.4 980.6,756.0 C987.3,750.6 994.1,745.6 1000.8,741.1 C1007.5,736.6 1014.3,732.6 1021.0,729.0 C1027.7,725.4 1034.4,722.6 1041.1,719.6 C1047.8,716.6 1054.8,713.4 1061.3,710.9 C1067.8,708.4 1069.7,708.1 1080.0,704.8 C1090.3,701.5 1093.8,696.2 1123.3,691.0 C1152.8,685.8 1219.8,677.0 1256.7,673.3 C1293.6,669.6 1330.0,669.5 1344.7,668.8" fill="none" stroke="#38f038" stroke-width="4.4" stroke-linejoin="round"/>
<path d="M845.6,659.6 C846.3,661.1 847.2,664.2 849.9,668.8 C852.5,673.4 857.6,681.1 861.5,687.3 C865.4,693.5 869.2,700.4 873.0,705.8 C876.8,711.2 880.3,715.4 884.5,719.6 C888.7,723.8 893.8,728.1 898.4,731.2 C903.0,734.3 908.1,736.4 912.2,738.1 C916.3,739.8 917.3,740.4 923.1,741.5 C928.9,742.6 938.5,744.5 946.9,744.5 C955.3,744.5 965.9,743.1 973.8,741.8 C981.6,740.4 987.3,738.2 994.0,736.4 C1000.7,734.6 1006.4,733.1 1014.2,731.0 C1022.1,728.9 1030.1,726.2 1041.1,723.6 C1052.1,721.0 1066.3,718.7 1080.0,715.6 C1093.7,712.5 1102.8,709.2 1123.3,705.0 C1143.8,700.8 1166.4,694.5 1203.3,690.5 C1240.2,686.5 1321.1,682.8 1344.7,681.3" fill="none" stroke="#66ff00" stroke-width="4.4" stroke-linejoin="round"/>
<path d="M845.6,659.6 C847.7,660.9 852.2,664.7 858.0,667.3 C863.8,669.9 872.6,672.3 880.5,675.0 C888.4,677.7 897.2,680.9 905.5,683.3 C913.8,685.7 922.2,687.8 930.5,689.5 C938.8,691.2 947.2,692.3 955.5,693.3 C963.8,694.3 970.2,694.9 980.0,695.6 C989.8,696.3 1001.8,697.1 1014.2,697.6 C1026.6,698.1 1042.0,698.5 1054.6,698.7 C1067.2,698.9 1069.7,699.5 1090.0,698.6 C1110.3,697.7 1148.9,694.8 1176.7,693.3 C1204.5,691.8 1228.7,690.5 1256.7,689.3 C1284.7,688.1 1330.0,686.5 1344.7,685.9" fill="none" stroke="#f6f63e" stroke-width="4.4" stroke-linejoin="round"/>
<path d="M845.6,659.6 C846.3,659.9 837.0,660.4 849.9,661.5 C862.8,662.6 897.6,664.7 923.1,666.5 C948.6,668.3 965.2,670.4 1003.0,672.5 C1040.8,674.6 1093.0,678.0 1150.0,679.2 C1207.0,680.5 1312.2,679.9 1344.7,680.0" fill="none" stroke="#e8b42e" stroke-width="4.4" stroke-linejoin="round"/>
<path d="M845.6,659.6 C871.3,659.8 916.8,660.5 1000.0,661.0 C1083.2,661.5 1287.2,662.2 1344.7,662.5" fill="none" stroke="#ff6a1a" stroke-width="4.4" stroke-linejoin="round"/>
<path d="M845.6,659.6 L1344.7,660.0" fill="none" stroke="#ff1a0a" stroke-width="4.4" stroke-linejoin="round"/>
</g>
<text x="835.5" y="591.6999999999999" font-size="37" text-anchor="end" >2</text>
<text x="835.5" y="672.8" font-size="37" text-anchor="end" >0</text>
<text x="835.5" y="753.9" font-size="37" text-anchor="end" >-2</text>
<text x="835.5" y="835.0" font-size="37" text-anchor="end" >-4</text>
<text x="835.5" y="916.0999999999999" font-size="37" text-anchor="end" >-6</text>
<text x="845.6" y="988.5" font-size="37" text-anchor="middle" >0</text>
<text x="988.4857142857143" y="988.5" font-size="37" text-anchor="middle" >2</text>
<text x="1131.3714285714286" y="988.5" font-size="37" text-anchor="middle" >4</text>
<text x="1274.2571428571428" y="988.5" font-size="37" text-anchor="middle" >6</text>
<text x="1096" y="1031.5" font-size="38" text-anchor="middle"><tspan font-style="italic">B</tspan> (T)</text>
<text x="731" y="559" font-size="51.5" text-anchor="start" >(d)</text>
<g transform="translate(776.9,859) rotate(-90)"><text x="0" y="0" font-size="37" font-style="italic">σ</text><text x="21" y="18" font-size="27">xy</text><text x="49.5" y="0" font-size="37">(10</text><text x="99.5" y="-19" font-size="27">5</text><text x="123" y="0" font-size="37" letter-spacing="0.8">S<tspan x="151.5">cm</tspan></text><text x="198" y="-19" font-size="27">-1</text><text x="221" y="0" font-size="37">)</text></g>
</svg></body></html>
